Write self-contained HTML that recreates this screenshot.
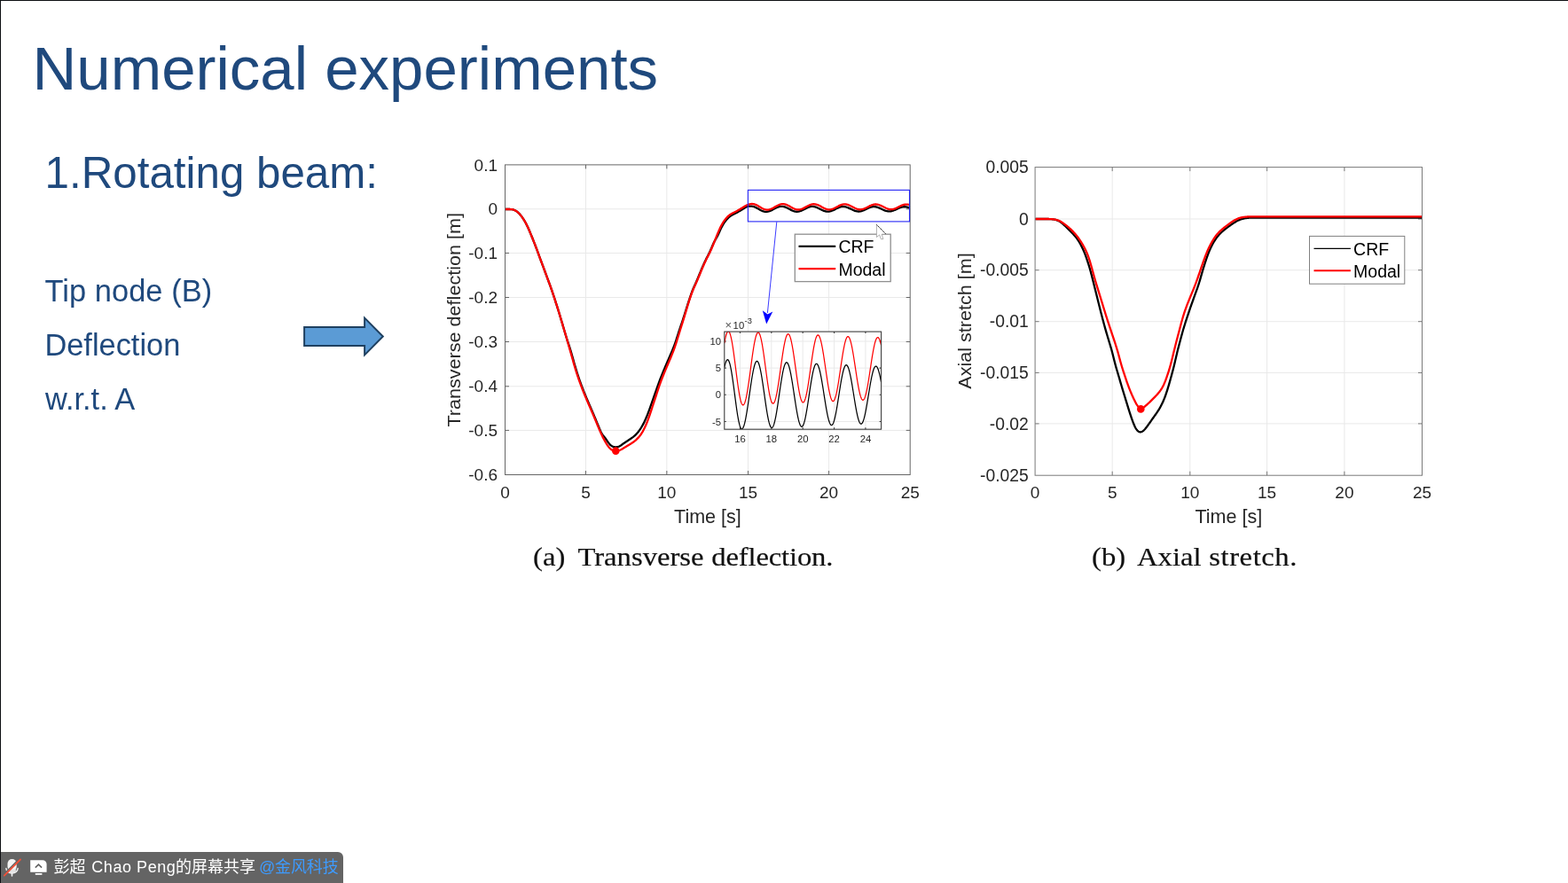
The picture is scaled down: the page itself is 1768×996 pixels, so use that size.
<!DOCTYPE html>
<html lang="en">
<head>
<meta charset="utf-8">
<title>Numerical experiments</title>
<style>
html,body{margin:0;padding:0;background:#fff;}
body{width:1768px;height:996px;position:relative;overflow:hidden;font-family:"Liberation Sans","Noto Sans CJK SC",sans-serif;}
.abs{position:absolute;white-space:nowrap;line-height:1;}
#bt{position:absolute;left:0;top:0;width:1768px;height:1px;background:#0d0f12;}
#bl{position:absolute;left:0;top:0;width:1px;height:996px;background:#0d0f12;}
.blue{color:#1f497d;}
#title{left:36.5px;top:43.2px;font-size:69px;}
#sub{left:50.6px;top:170.3px;font-size:49.3px;}
.li{font-size:34.4px;}
#charts{position:absolute;left:0;top:0;}
#charts text{font-family:"Liberation Sans",sans-serif;}
.cap{font-family:"Liberation Serif",serif;font-size:30.4px;color:#111;transform-origin:0 0;transform:scaleX(1.075);word-spacing:0.5px;-webkit-text-stroke:0.2px #111;}
#bar{position:absolute;left:1px;top:961px;width:386px;height:35px;background:#646464;border-top-right-radius:6px;}
#bar .t{position:absolute;top:0;line-height:35px;font-size:18px;color:#fff;white-space:nowrap;font-family:"Liberation Sans","Noto Sans CJK SC",sans-serif;}
#bar .b{color:#3d9bff;}
</style>
</head>
<body>
<div class="abs blue" id="title">Numerical experiments</div>
<div class="abs blue" id="sub">1.Rotating beam:</div>
<div class="abs blue li" style="left:50.5px;top:310.5px;letter-spacing:0.06px">Tip node (B)</div>
<div class="abs blue li" style="left:50.4px;top:371.85px">Deflection</div>
<div class="abs blue li" style="left:51px;top:433.35px">w.r.t. A</div>
<svg class="abs" style="left:330px;top:345px" width="120" height="70" viewBox="330 345 120 70">
<path d="M343.1,369.1 H411.1 V358.6 L431.8,379.5 L411.1,400.4 V389.9 H343.1 Z" fill="#5b9bd5" stroke="#1f4060" stroke-width="2" stroke-linejoin="miter"/>
</svg>
<svg id="charts" width="1768" height="996" viewBox="0 0 1768 996">
<g>
<line x1="660.5" y1="185.9" x2="660.5" y2="535.5" stroke="#e9e9e9" stroke-width="1"/>
<line x1="751.85" y1="185.9" x2="751.85" y2="535.5" stroke="#e9e9e9" stroke-width="1"/>
<line x1="843.5" y1="185.9" x2="843.5" y2="535.5" stroke="#e9e9e9" stroke-width="1"/>
<line x1="934.6" y1="185.9" x2="934.6" y2="535.5" stroke="#e9e9e9" stroke-width="1"/>
<line x1="569.5" y1="235.8" x2="1026.2" y2="235.8" stroke="#e9e9e9" stroke-width="1"/>
<line x1="569.5" y1="285.45" x2="1026.2" y2="285.45" stroke="#e9e9e9" stroke-width="1"/>
<line x1="569.5" y1="335.5" x2="1026.2" y2="335.5" stroke="#e9e9e9" stroke-width="1"/>
<line x1="569.5" y1="385.5" x2="1026.2" y2="385.5" stroke="#e9e9e9" stroke-width="1"/>
<line x1="569.5" y1="435.8" x2="1026.2" y2="435.8" stroke="#e9e9e9" stroke-width="1"/>
<line x1="569.5" y1="485.4" x2="1026.2" y2="485.4" stroke="#e9e9e9" stroke-width="1"/>
<path d="M660.5,535.5v-4.5M660.5,185.9v4.5M751.85,535.5v-4.5M751.85,185.9v4.5M843.5,535.5v-4.5M843.5,185.9v4.5M934.6,535.5v-4.5M934.6,185.9v4.5M569.5,235.8h4.5M1026.2,235.8h-4.5M569.5,285.45h4.5M1026.2,285.45h-4.5M569.5,335.5h4.5M1026.2,335.5h-4.5M569.5,385.5h4.5M1026.2,385.5h-4.5M569.5,435.8h4.5M1026.2,435.8h-4.5M569.5,485.4h4.5M1026.2,485.4h-4.5" stroke="#666666" stroke-width="1" fill="none"/>
<clipPath id="ca"><rect x="569.5" y="185.9" width="457.20000000000005" height="349.6"/></clipPath>
<g clip-path="url(#ca)" fill="none" stroke-linejoin="round">
<path d="M569.50,236.00 L570.00,236.00 L570.50,236.00 L571.00,236.00 L571.50,236.00 L572.00,236.00 L572.50,236.00 L573.00,236.00 L573.50,236.00 L574.00,236.00 L574.50,236.01 L575.00,236.02 L575.50,236.04 L576.00,236.06 L576.50,236.10 L577.00,236.16 L577.50,236.23 L578.00,236.33 L578.50,236.45 L579.00,236.59 L579.50,236.76 L580.00,236.95 L580.50,237.17 L581.00,237.42 L581.50,237.70 L582.00,238.01 L582.50,238.35 L583.00,238.72 L583.50,239.13 L584.00,239.56 L584.50,240.03 L585.00,240.51 L585.50,241.03 L586.00,241.57 L586.50,242.14 L587.00,242.73 L587.50,243.35 L588.00,243.99 L588.50,244.66 L589.00,245.35 L589.50,246.07 L590.00,246.81 L590.50,247.59 L591.00,248.39 L591.50,249.23 L592.00,250.10 L592.50,251.00 L593.00,251.93 L593.50,252.90 L594.00,253.90 L594.50,254.93 L595.00,255.99 L595.50,257.08 L596.00,258.19 L596.50,259.33 L597.00,260.50 L597.50,261.68 L598.00,262.88 L598.50,264.10 L599.00,265.32 L599.50,266.55 L600.00,267.79 L600.50,269.03 L601.00,270.29 L601.50,271.55 L602.00,272.82 L602.50,274.09 L603.00,275.38 L603.50,276.68 L604.00,277.99 L604.50,279.30 L605.00,280.63 L605.50,281.97 L606.00,283.32 L606.50,284.68 L607.00,286.05 L607.50,287.42 L608.00,288.80 L608.50,290.17 L609.00,291.55 L609.50,292.91 L610.00,294.27 L610.50,295.62 L611.00,296.96 L611.50,298.30 L612.00,299.64 L612.50,300.97 L613.00,302.31 L613.50,303.66 L614.00,305.01 L614.50,306.37 L615.00,307.73 L615.50,309.10 L616.00,310.46 L616.50,311.83 L617.00,313.19 L617.50,314.55 L618.00,315.91 L618.50,317.26 L619.00,318.61 L619.50,319.97 L620.00,321.34 L620.50,322.73 L621.00,324.13 L621.50,325.54 L622.00,326.98 L622.50,328.44 L623.00,329.91 L623.50,331.40 L624.00,332.90 L624.50,334.41 L625.00,335.92 L625.50,337.45 L626.00,338.98 L626.50,340.53 L627.00,342.08 L627.50,343.64 L628.00,345.21 L628.50,346.80 L629.00,348.40 L629.50,350.01 L630.00,351.63 L630.50,353.26 L631.00,354.91 L631.50,356.56 L632.00,358.23 L632.50,359.90 L633.00,361.57 L633.50,363.26 L634.00,364.94 L634.50,366.64 L635.00,368.34 L635.50,370.04 L636.00,371.75 L636.50,373.45 L637.00,375.15 L637.50,376.84 L638.00,378.50 L638.50,380.14 L639.00,381.74 L639.50,383.31 L640.00,384.84 L640.50,386.35 L641.00,387.85 L641.50,389.36 L642.00,390.89 L642.50,392.45 L643.00,394.06 L643.50,395.70 L644.00,397.39 L644.50,399.11 L645.00,400.86 L645.50,402.63 L646.00,404.40 L646.50,406.18 L647.00,407.95 L647.50,409.72 L648.00,411.46 L648.50,413.19 L649.00,414.89 L649.50,416.56 L650.00,418.19 L650.50,419.79 L651.00,421.35 L651.50,422.89 L652.00,424.39 L652.50,425.87 L653.00,427.32 L653.50,428.76 L654.00,430.17 L654.50,431.56 L655.00,432.94 L655.50,434.29 L656.00,435.63 L656.50,436.95 L657.00,438.25 L657.50,439.54 L658.00,440.81 L658.50,442.07 L659.00,443.31 L659.50,444.54 L660.00,445.76 L660.50,446.97 L661.00,448.17 L661.50,449.36 L662.00,450.54 L662.50,451.71 L663.00,452.88 L663.50,454.04 L664.00,455.19 L664.50,456.35 L665.00,457.50 L665.50,458.66 L666.00,459.81 L666.50,460.97 L667.00,462.13 L667.50,463.29 L668.00,464.45 L668.50,465.62 L669.00,466.79 L669.50,467.97 L670.00,469.15 L670.50,470.34 L671.00,471.54 L671.50,472.74 L672.00,473.94 L672.50,475.15 L673.00,476.37 L673.50,477.59 L674.00,478.81 L674.50,480.03 L675.00,481.25 L675.50,482.46 L676.00,483.66 L676.50,484.82 L677.00,485.94 L677.50,487.00 L678.00,487.98 L678.50,488.87 L679.00,489.68 L679.50,490.42 L680.00,491.10 L680.50,491.74 L681.00,492.36 L681.50,492.99 L682.00,493.64 L682.50,494.31 L683.00,495.00 L683.50,495.72 L684.00,496.44 L684.50,497.17 L685.00,497.89 L685.50,498.59 L686.00,499.26 L686.50,499.89 L687.00,500.50 L687.50,501.06 L688.00,501.57 L688.50,502.04 L689.00,502.46 L689.50,502.83 L690.00,503.15 L690.50,503.43 L691.00,503.66 L691.50,503.85 L692.00,504.00 L692.50,504.12 L693.00,504.20 L693.50,504.25 L694.00,504.28 L694.50,504.28 L695.00,504.26 L695.50,504.21 L696.00,504.14 L696.50,504.05 L697.00,503.93 L697.50,503.77 L698.00,503.58 L698.50,503.35 L699.00,503.08 L699.50,502.77 L700.00,502.45 L700.50,502.10 L701.00,501.74 L701.50,501.38 L702.00,501.02 L702.50,500.66 L703.00,500.30 L703.50,499.96 L704.00,499.62 L704.50,499.28 L705.00,498.94 L705.50,498.61 L706.00,498.27 L706.50,497.94 L707.00,497.61 L707.50,497.28 L708.00,496.95 L708.50,496.62 L709.00,496.29 L709.50,495.97 L710.00,495.64 L710.50,495.31 L711.00,494.98 L711.50,494.64 L712.00,494.29 L712.50,493.93 L713.00,493.56 L713.50,493.18 L714.00,492.79 L714.50,492.38 L715.00,491.96 L715.50,491.53 L716.00,491.07 L716.50,490.60 L717.00,490.11 L717.50,489.60 L718.00,489.06 L718.50,488.50 L719.00,487.92 L719.50,487.30 L720.00,486.67 L720.50,486.01 L721.00,485.32 L721.50,484.61 L722.00,483.87 L722.50,483.11 L723.00,482.31 L723.50,481.49 L724.00,480.64 L724.50,479.76 L725.00,478.85 L725.50,477.90 L726.00,476.92 L726.50,475.90 L727.00,474.85 L727.50,473.76 L728.00,472.64 L728.50,471.49 L729.00,470.30 L729.50,469.08 L730.00,467.83 L730.50,466.55 L731.00,465.24 L731.50,463.90 L732.00,462.55 L732.50,461.18 L733.00,459.79 L733.50,458.40 L734.00,456.99 L734.50,455.57 L735.00,454.15 L735.50,452.73 L736.00,451.30 L736.50,449.87 L737.00,448.44 L737.50,447.00 L738.00,445.57 L738.50,444.14 L739.00,442.71 L739.50,441.28 L740.00,439.85 L740.50,438.42 L741.00,436.99 L741.50,435.58 L742.00,434.17 L742.50,432.78 L743.00,431.41 L743.50,430.06 L744.00,428.74 L744.50,427.43 L745.00,426.14 L745.50,424.87 L746.00,423.62 L746.50,422.38 L747.00,421.15 L747.50,419.93 L748.00,418.72 L748.50,417.52 L749.00,416.33 L749.50,415.15 L750.00,413.97 L750.50,412.80 L751.00,411.63 L751.50,410.47 L752.00,409.31 L752.50,408.15 L753.00,407.00 L753.50,405.84 L754.00,404.69 L754.50,403.54 L755.00,402.39 L755.50,401.24 L756.00,400.08 L756.50,398.92 L757.00,397.76 L757.50,396.58 L758.00,395.40 L758.50,394.20 L759.00,392.98 L759.50,391.72 L760.00,390.43 L760.50,389.09 L761.00,387.70 L761.50,386.26 L762.00,384.77 L762.50,383.25 L763.00,381.70 L763.50,380.13 L764.00,378.56 L764.50,377.00 L765.00,375.45 L765.50,373.92 L766.00,372.41 L766.50,370.92 L767.00,369.43 L767.50,367.96 L768.00,366.48 L768.50,365.00 L769.00,363.51 L769.50,362.01 L770.00,360.49 L770.50,358.96 L771.00,357.41 L771.50,355.85 L772.00,354.28 L772.50,352.70 L773.00,351.12 L773.50,349.53 L774.00,347.95 L774.50,346.36 L775.00,344.78 L775.50,343.20 L776.00,341.64 L776.50,340.08 L777.00,338.54 L777.50,337.02 L778.00,335.52 L778.50,334.05 L779.00,332.60 L779.50,331.20 L780.00,329.83 L780.50,328.51 L781.00,327.23 L781.50,326.00 L782.00,324.82 L782.50,323.67 L783.00,322.56 L783.50,321.46 L784.00,320.36 L784.50,319.25 L785.00,318.12 L785.50,316.98 L786.00,315.81 L786.50,314.62 L787.00,313.42 L787.50,312.21 L788.00,310.99 L788.50,309.77 L789.00,308.56 L789.50,307.35 L790.00,306.14 L790.50,304.94 L791.00,303.75 L791.50,302.57 L792.00,301.40 L792.50,300.25 L793.00,299.11 L793.50,297.99 L794.00,296.89 L794.50,295.80 L795.00,294.72 L795.50,293.67 L796.00,292.64 L796.50,291.63 L797.00,290.64 L797.50,289.66 L798.00,288.68 L798.50,287.71 L799.00,286.73 L799.50,285.73 L800.00,284.71 L800.50,283.66 L801.00,282.57 L801.50,281.45 L802.00,280.30 L802.50,279.13 L803.00,277.94 L803.50,276.75 L804.00,275.59 L804.50,274.47 L805.00,273.41 L805.50,272.41 L806.00,271.46 L806.50,270.57 L807.00,269.71 L807.50,268.85 L808.00,267.99 L808.50,267.09 L809.00,266.16 L809.50,265.17 L810.00,264.13 L810.50,263.05 L811.00,261.94 L811.50,260.83 L812.00,259.72 L812.50,258.64 L813.00,257.59 L813.50,256.58 L814.00,255.62 L814.50,254.69 L815.00,253.81 L815.50,252.97 L816.00,252.17 L816.50,251.41 L817.00,250.68 L817.50,249.99 L818.00,249.32 L818.50,248.68 L819.00,248.07 L819.50,247.49 L820.00,246.93 L820.50,246.39 L821.00,245.89 L821.50,245.41 L822.00,244.96 L822.50,244.54 L823.00,244.15 L823.50,243.78 L824.00,243.43 L824.50,243.11 L825.00,242.80 L825.50,242.51 L826.00,242.23 L826.50,241.96 L827.00,241.70 L827.50,241.44 L828.00,241.19 L828.50,240.95 L829.00,240.70 L829.50,240.45 L830.00,240.20 L830.50,239.94 L831.00,239.68 L831.50,239.42 L832.00,239.15 L832.50,238.87 L833.00,238.59 L833.50,238.30 L834.00,238.01 L834.50,237.71 L835.00,237.41 L835.50,237.11 L836.00,236.80 L836.50,236.49 L837.00,236.18 L837.50,235.87 L838.00,235.55 L838.50,235.23 L839.00,234.92 L839.50,234.60 L840.00,234.29 L840.50,233.98 L841.00,233.70 L841.50,233.44 L842.00,233.21 L842.50,233.02 L843.00,232.88 L843.50,232.78 L844.00,232.71 L844.50,232.67 L845.00,232.64 L845.50,232.63 L846.00,232.62 L846.50,232.62 L847.00,232.63 L847.50,232.66 L848.00,232.70 L848.50,232.77 L849.00,232.86 L849.50,232.98 L850.00,233.12 L850.50,233.28 L851.00,233.47 L851.50,233.68 L852.00,233.91 L852.50,234.15 L853.00,234.41 L853.50,234.68 L854.00,234.96 L854.50,235.24 L855.00,235.54 L855.50,235.83 L856.00,236.12 L856.50,236.41 L857.00,236.70 L857.50,236.97 L858.00,237.24 L858.50,237.49 L859.00,237.72 L859.50,237.94 L860.00,238.14 L860.50,238.32 L861.00,238.47 L861.50,238.60 L862.00,238.70 L862.50,238.78 L863.00,238.83 L863.50,238.86 L864.00,238.86 L864.50,238.83 L865.00,238.78 L865.50,238.71 L866.00,238.61 L866.50,238.49 L867.00,238.35 L867.50,238.18 L868.00,238.00 L868.50,237.81 L869.00,237.59 L869.50,237.36 L870.00,237.13 L870.50,236.88 L871.00,236.62 L871.50,236.35 L872.00,236.08 L872.50,235.81 L873.00,235.54 L873.50,235.28 L874.00,235.01 L874.50,234.76 L875.00,234.51 L875.50,234.27 L876.00,234.04 L876.50,233.83 L877.00,233.64 L877.50,233.46 L878.00,233.30 L878.50,233.16 L879.00,233.04 L879.50,232.94 L880.00,232.87 L880.50,232.82 L881.00,232.79 L881.50,232.79 L882.00,232.81 L882.50,232.86 L883.00,232.93 L883.50,233.03 L884.00,233.14 L884.50,233.28 L885.00,233.44 L885.50,233.62 L886.00,233.82 L886.50,234.03 L887.00,234.26 L887.50,234.50 L888.00,234.75 L888.50,235.00 L889.00,235.27 L889.50,235.54 L890.00,235.81 L890.50,236.08 L891.00,236.35 L891.50,236.61 L892.00,236.87 L892.50,237.12 L893.00,237.35 L893.50,237.58 L894.00,237.79 L894.50,237.98 L895.00,238.15 L895.50,238.30 L896.00,238.44 L896.50,238.55 L897.00,238.63 L897.50,238.70 L898.00,238.74 L898.50,238.75 L899.00,238.74 L899.50,238.71 L900.00,238.65 L900.50,238.57 L901.00,238.47 L901.50,238.34 L902.00,238.20 L902.50,238.03 L903.00,237.85 L903.50,237.64 L904.00,237.43 L904.50,237.20 L905.00,236.96 L905.50,236.71 L906.00,236.45 L906.50,236.19 L907.00,235.92 L907.50,235.66 L908.00,235.39 L908.50,235.13 L909.00,234.87 L909.50,234.63 L910.00,234.39 L910.50,234.16 L911.00,233.95 L911.50,233.76 L912.00,233.58 L912.50,233.42 L913.00,233.28 L913.50,233.16 L914.00,233.06 L914.50,232.98 L915.00,232.93 L915.50,232.91 L916.00,232.90 L916.50,232.92 L917.00,232.96 L917.50,233.03 L918.00,233.11 L918.50,233.22 L919.00,233.35 L919.50,233.50 L920.00,233.66 L920.50,233.85 L921.00,234.04 L921.50,234.26 L922.00,234.48 L922.50,234.71 L923.00,234.95 L923.50,235.20 L924.00,235.46 L924.50,235.71 L925.00,235.97 L925.50,236.22 L926.00,236.48 L926.50,236.72 L927.00,236.96 L927.50,237.19 L928.00,237.41 L928.50,237.61 L929.00,237.80 L929.50,237.98 L930.00,238.13 L930.50,238.27 L931.00,238.39 L931.50,238.49 L932.00,238.57 L932.50,238.62 L933.00,238.65 L933.50,238.66 L934.00,238.65 L934.50,238.61 L935.00,238.55 L935.50,238.46 L936.00,238.36 L936.50,238.23 L937.00,238.09 L937.50,237.92 L938.00,237.74 L938.50,237.54 L939.00,237.33 L939.50,237.10 L940.00,236.87 L940.50,236.62 L941.00,236.37 L941.50,236.12 L942.00,235.86 L942.50,235.60 L943.00,235.34 L943.50,235.09 L944.00,234.85 L944.50,234.61 L945.00,234.38 L945.50,234.17 L946.00,233.97 L946.50,233.78 L947.00,233.62 L947.50,233.47 L948.00,233.34 L948.50,233.23 L949.00,233.14 L949.50,233.08 L950.00,233.04 L950.50,233.02 L951.00,233.03 L951.50,233.05 L952.00,233.10 L952.50,233.17 L953.00,233.27 L953.50,233.38 L954.00,233.51 L954.50,233.66 L955.00,233.82 L955.50,234.01 L956.00,234.20 L956.50,234.41 L957.00,234.63 L957.50,234.86 L958.00,235.10 L958.50,235.34 L959.00,235.58 L959.50,235.83 L960.00,236.07 L960.50,236.32 L961.00,236.56 L961.50,236.79 L962.00,237.01 L962.50,237.23 L963.00,237.43 L963.50,237.62 L964.00,237.80 L964.50,237.96 L965.00,238.10 L965.50,238.22 L966.00,238.32 L966.50,238.40 L967.00,238.47 L967.50,238.51 L968.00,238.52 L968.50,238.52 L969.00,238.49 L969.50,238.44 L970.00,238.37 L970.50,238.28 L971.00,238.17 L971.50,238.03 L972.00,237.88 L972.50,237.72 L973.00,237.53 L973.50,237.33 L974.00,237.12 L974.50,236.90 L975.00,236.67 L975.50,236.43 L976.00,236.19 L976.50,235.95 L977.00,235.70 L977.50,235.45 L978.00,235.21 L978.50,234.97 L979.00,234.74 L979.50,234.52 L980.00,234.31 L980.50,234.11 L981.00,233.93 L981.50,233.76 L982.00,233.61 L982.50,233.48 L983.00,233.37 L983.50,233.28 L984.00,233.21 L984.50,233.16 L985.00,233.14 L985.50,233.13 L986.00,233.15 L986.50,233.19 L987.00,233.26 L987.50,233.34 L988.00,233.44 L988.50,233.57 L989.00,233.71 L989.50,233.86 L990.00,234.04 L990.50,234.23 L991.00,234.43 L991.50,234.64 L992.00,234.86 L992.50,235.09 L993.00,235.33 L993.50,235.56 L994.00,235.80 L994.50,236.04 L995.00,236.28 L995.50,236.52 L996.00,236.74 L996.50,236.96 L997.00,237.17 L997.50,237.37 L998.00,237.55 L998.50,237.72 L999.00,237.88 L999.50,238.01 L1000.00,238.13 L1000.50,238.23 L1001.00,238.31 L1001.50,238.36 L1002.00,238.40 L1002.50,238.41 L1003.00,238.40 L1003.50,238.37 L1004.00,238.32 L1004.50,238.25 L1005.00,238.16 L1005.50,238.05 L1006.00,237.92 L1006.50,237.77 L1007.00,237.61 L1007.50,237.43 L1008.00,237.24 L1008.50,237.04 L1009.00,236.83 L1009.50,236.61 L1010.00,236.38 L1010.50,236.15 L1011.00,235.91 L1011.50,235.68 L1012.00,235.44 L1012.50,235.21 L1013.00,234.98 L1013.50,234.77 L1014.00,234.56 L1014.50,234.36 L1015.00,234.17 L1015.50,234.00 L1016.00,233.84 L1016.50,233.69 L1017.00,233.57 L1017.50,233.46 L1018.00,233.38 L1018.50,233.31 L1019.00,233.27 L1019.50,233.24 L1020.00,233.24 L1020.50,233.26 L1021.00,233.30 L1021.50,233.36 L1022.00,233.43 L1022.50,233.53 L1023.00,233.64 L1023.50,233.77 L1024.00,233.90 L1024.50,234.04 L1025.00,234.17 L1025.50,234.28 L1026.00,234.39" stroke="#000" stroke-width="2.3"/>
<path d="M569.50,236.00 L570.00,236.00 L570.50,236.00 L571.00,236.00 L571.50,236.00 L572.00,236.00 L572.50,236.00 L573.00,236.00 L573.50,236.00 L574.00,236.00 L574.50,236.01 L575.00,236.02 L575.50,236.04 L576.00,236.06 L576.50,236.10 L577.00,236.16 L577.50,236.23 L578.00,236.33 L578.50,236.45 L579.00,236.59 L579.50,236.76 L580.00,236.95 L580.50,237.17 L581.00,237.42 L581.50,237.70 L582.00,238.01 L582.50,238.35 L583.00,238.72 L583.50,239.13 L584.00,239.56 L584.50,240.03 L585.00,240.51 L585.50,241.03 L586.00,241.57 L586.50,242.14 L587.00,242.73 L587.50,243.35 L588.00,243.99 L588.50,244.66 L589.00,245.35 L589.50,246.07 L590.00,246.81 L590.50,247.59 L591.00,248.39 L591.50,249.23 L592.00,250.10 L592.50,251.00 L593.00,251.93 L593.50,252.90 L594.00,253.90 L594.50,254.93 L595.00,255.99 L595.50,257.08 L596.00,258.19 L596.50,259.33 L597.00,260.50 L597.50,261.68 L598.00,262.88 L598.50,264.10 L599.00,265.32 L599.50,266.55 L600.00,267.79 L600.50,269.03 L601.00,270.29 L601.50,271.55 L602.00,272.82 L602.50,274.09 L603.00,275.38 L603.50,276.68 L604.00,277.99 L604.50,279.30 L605.00,280.63 L605.50,281.97 L606.00,283.32 L606.50,284.68 L607.00,286.05 L607.50,287.42 L608.00,288.80 L608.50,290.17 L609.00,291.55 L609.50,292.91 L610.00,294.27 L610.50,295.62 L611.00,296.96 L611.50,298.30 L612.00,299.64 L612.50,300.97 L613.00,302.31 L613.50,303.66 L614.00,305.01 L614.50,306.37 L615.00,307.73 L615.50,309.10 L616.00,310.46 L616.50,311.83 L617.00,313.19 L617.50,314.55 L618.00,315.91 L618.50,317.26 L619.00,318.61 L619.50,319.97 L620.00,321.34 L620.50,322.73 L621.00,324.13 L621.50,325.54 L622.00,326.98 L622.50,328.44 L623.00,329.91 L623.50,331.40 L624.00,332.90 L624.50,334.41 L625.00,335.92 L625.50,337.45 L626.00,338.98 L626.50,340.53 L627.00,342.08 L627.50,343.64 L628.00,345.21 L628.50,346.80 L629.00,348.40 L629.50,350.01 L630.00,351.63 L630.50,353.26 L631.00,354.91 L631.50,356.56 L632.00,358.23 L632.50,359.90 L633.00,361.57 L633.50,363.25 L634.00,364.94 L634.50,366.63 L635.00,368.32 L635.50,370.02 L636.00,371.72 L636.50,373.42 L637.00,375.12 L637.50,376.83 L638.00,378.54 L638.50,380.26 L639.00,381.98 L639.50,383.72 L640.00,385.46 L640.50,387.21 L641.00,388.96 L641.50,390.72 L642.00,392.48 L642.50,394.24 L643.00,396.00 L643.50,397.75 L644.00,399.51 L644.50,401.27 L645.00,403.03 L645.50,404.80 L646.00,406.56 L646.50,408.32 L647.00,410.08 L647.50,411.82 L648.00,413.53 L648.50,415.23 L649.00,416.88 L649.50,418.51 L650.00,420.10 L650.50,421.66 L651.00,423.19 L651.50,424.69 L652.00,426.16 L652.50,427.61 L653.00,429.04 L653.50,430.45 L654.00,431.84 L654.50,433.21 L655.00,434.56 L655.50,435.90 L656.00,437.21 L656.50,438.51 L657.00,439.80 L657.50,441.07 L658.00,442.32 L658.50,443.56 L659.00,444.79 L659.50,446.00 L660.00,447.21 L660.50,448.40 L661.00,449.59 L661.50,450.77 L662.00,451.94 L662.50,453.11 L663.00,454.27 L663.50,455.43 L664.00,456.58 L664.50,457.73 L665.00,458.89 L665.50,460.04 L666.00,461.20 L666.50,462.36 L667.00,463.52 L667.50,464.69 L668.00,465.85 L668.50,467.03 L669.00,468.21 L669.50,469.39 L670.00,470.58 L670.50,471.78 L671.00,472.98 L671.50,474.18 L672.00,475.39 L672.50,476.60 L673.00,477.81 L673.50,479.01 L674.00,480.21 L674.50,481.41 L675.00,482.60 L675.50,483.78 L676.00,484.95 L676.50,486.10 L677.00,487.24 L677.50,488.36 L678.00,489.46 L678.50,490.54 L679.00,491.59 L679.50,492.63 L680.00,493.63 L680.50,494.62 L681.00,495.58 L681.50,496.51 L682.00,497.42 L682.50,498.31 L683.00,499.17 L683.50,500.00 L684.00,500.80 L684.50,501.57 L685.00,502.31 L685.50,503.01 L686.00,503.68 L686.50,504.31 L687.00,504.90 L687.50,505.45 L688.00,505.96 L688.50,506.42 L689.00,506.84 L689.50,507.22 L690.00,507.55 L690.50,507.84 L691.00,508.09 L691.50,508.30 L692.00,508.48 L692.50,508.62 L693.00,508.72 L693.50,508.79 L694.00,508.83 L694.50,508.83 L695.00,508.81 L695.50,508.75 L696.00,508.67 L696.50,508.57 L697.00,508.44 L697.50,508.30 L698.00,508.14 L698.50,507.96 L699.00,507.76 L699.50,507.54 L700.00,507.30 L700.50,507.04 L701.00,506.76 L701.50,506.47 L702.00,506.17 L702.50,505.86 L703.00,505.55 L703.50,505.23 L704.00,504.92 L704.50,504.61 L705.00,504.31 L705.50,504.01 L706.00,503.71 L706.50,503.41 L707.00,503.11 L707.50,502.82 L708.00,502.52 L708.50,502.22 L709.00,501.92 L709.50,501.61 L710.00,501.31 L710.50,501.00 L711.00,500.69 L711.50,500.37 L712.00,500.06 L712.50,499.73 L713.00,499.40 L713.50,499.06 L714.00,498.71 L714.50,498.35 L715.00,497.98 L715.50,497.59 L716.00,497.19 L716.50,496.77 L717.00,496.34 L717.50,495.89 L718.00,495.42 L718.50,494.93 L719.00,494.43 L719.50,493.91 L720.00,493.37 L720.50,492.80 L721.00,492.21 L721.50,491.59 L722.00,490.93 L722.50,490.24 L723.00,489.51 L723.50,488.74 L724.00,487.93 L724.50,487.08 L725.00,486.18 L725.50,485.25 L726.00,484.28 L726.50,483.28 L727.00,482.24 L727.50,481.18 L728.00,480.08 L728.50,478.94 L729.00,477.76 L729.50,476.54 L730.00,475.27 L730.50,473.95 L731.00,472.59 L731.50,471.19 L732.00,469.75 L732.50,468.28 L733.00,466.80 L733.50,465.30 L734.00,463.80 L734.50,462.29 L735.00,460.77 L735.50,459.26 L736.00,457.74 L736.50,456.22 L737.00,454.69 L737.50,453.17 L738.00,451.64 L738.50,450.11 L739.00,448.58 L739.50,447.05 L740.00,445.52 L740.50,443.99 L741.00,442.46 L741.50,440.94 L742.00,439.42 L742.50,437.92 L743.00,436.43 L743.50,434.97 L744.00,433.53 L744.50,432.12 L745.00,430.74 L745.50,429.39 L746.00,428.07 L746.50,426.76 L747.00,425.48 L747.50,424.22 L748.00,422.97 L748.50,421.74 L749.00,420.52 L749.50,419.31 L750.00,418.11 L750.50,416.92 L751.00,415.74 L751.50,414.57 L752.00,413.40 L752.50,412.23 L753.00,411.06 L753.50,409.90 L754.00,408.73 L754.50,407.56 L755.00,406.39 L755.50,405.21 L756.00,404.02 L756.50,402.83 L757.00,401.62 L757.50,400.39 L758.00,399.14 L758.50,397.87 L759.00,396.58 L759.50,395.26 L760.00,393.90 L760.50,392.52 L761.00,391.10 L761.50,389.64 L762.00,388.14 L762.50,386.60 L763.00,385.02 L763.50,383.41 L764.00,381.78 L764.50,380.14 L765.00,378.49 L765.50,376.85 L766.00,375.22 L766.50,373.60 L767.00,371.99 L767.50,370.40 L768.00,368.81 L768.50,367.22 L769.00,365.64 L769.50,364.04 L770.00,362.44 L770.50,360.82 L771.00,359.19 L771.50,357.55 L772.00,355.90 L772.50,354.23 L773.00,352.56 L773.50,350.89 L774.00,349.23 L774.50,347.57 L775.00,345.91 L775.50,344.27 L776.00,342.65 L776.50,341.04 L777.00,339.46 L777.50,337.90 L778.00,336.38 L778.50,334.88 L779.00,333.43 L779.50,332.02 L780.00,330.65 L780.50,329.32 L781.00,328.04 L781.50,326.80 L782.00,325.61 L782.50,324.46 L783.00,323.34 L783.50,322.24 L784.00,321.15 L784.50,320.05 L785.00,318.95 L785.50,317.82 L786.00,316.68 L786.50,315.51 L787.00,314.32 L787.50,313.12 L788.00,311.91 L788.50,310.69 L789.00,309.47 L789.50,308.26 L790.00,307.05 L790.50,305.84 L791.00,304.64 L791.50,303.45 L792.00,302.27 L792.50,301.10 L793.00,299.95 L793.50,298.81 L794.00,297.69 L794.50,296.59 L795.00,295.50 L795.50,294.42 L796.00,293.37 L796.50,292.34 L797.00,291.33 L797.50,290.34 L798.00,289.36 L798.50,288.38 L799.00,287.41 L799.50,286.43 L800.00,285.44 L800.50,284.42 L801.00,283.37 L801.50,282.30 L802.00,281.18 L802.50,280.04 L803.00,278.87 L803.50,277.66 L804.00,276.44 L804.50,275.19 L805.00,273.94 L805.50,272.68 L806.00,271.42 L806.50,270.17 L807.00,268.91 L807.50,267.67 L808.00,266.43 L808.50,265.20 L809.00,263.98 L809.50,262.78 L810.00,261.59 L810.50,260.42 L811.00,259.28 L811.50,258.17 L812.00,257.10 L812.50,256.06 L813.00,255.06 L813.50,254.10 L814.00,253.19 L814.50,252.31 L815.00,251.47 L815.50,250.67 L816.00,249.91 L816.50,249.18 L817.00,248.49 L817.50,247.82 L818.00,247.18 L818.50,246.57 L819.00,245.99 L819.50,245.43 L820.00,244.89 L820.50,244.39 L821.00,243.91 L821.50,243.46 L822.00,243.04 L822.50,242.65 L823.00,242.28 L823.50,241.93 L824.00,241.61 L824.50,241.30 L825.00,241.01 L825.50,240.73 L826.00,240.46 L826.50,240.20 L827.00,239.94 L827.50,239.69 L828.00,239.45 L828.50,239.20 L829.00,238.95 L829.50,238.70 L830.00,238.44 L830.50,238.18 L831.00,237.92 L831.50,237.65 L832.00,237.37 L832.50,237.09 L833.00,236.80 L833.50,236.51 L834.00,236.21 L834.50,235.91 L835.00,235.61 L835.50,235.30 L836.00,234.99 L836.50,234.68 L837.00,234.37 L837.50,234.06 L838.00,233.75 L838.50,233.44 L839.00,233.14 L839.50,232.84 L840.00,232.54 L840.50,232.26 L841.00,231.98 L841.50,231.72 L842.00,231.48 L842.50,231.25 L843.00,231.04 L843.50,230.86 L844.00,230.69 L844.50,230.54 L845.00,230.40 L845.50,230.28 L846.00,230.18 L846.50,230.10 L847.00,230.05 L847.50,230.01 L848.00,230.00 L848.50,230.02 L849.00,230.07 L849.50,230.14 L850.00,230.24 L850.50,230.36 L851.00,230.51 L851.50,230.68 L852.00,230.88 L852.50,231.09 L853.00,231.33 L853.50,231.58 L854.00,231.84 L854.50,232.12 L855.00,232.40 L855.50,232.70 L856.00,233.00 L856.50,233.30 L857.00,233.60 L857.50,233.90 L858.00,234.20 L858.50,234.49 L859.00,234.76 L859.50,235.03 L860.00,235.28 L860.50,235.51 L861.00,235.73 L861.50,235.93 L862.00,236.10 L862.50,236.25 L863.00,236.38 L863.50,236.48 L864.00,236.55 L864.50,236.60 L865.00,236.62 L865.50,236.61 L866.00,236.58 L866.50,236.52 L867.00,236.44 L867.50,236.33 L868.00,236.20 L868.50,236.04 L869.00,235.87 L869.50,235.67 L870.00,235.46 L870.50,235.23 L871.00,234.99 L871.50,234.73 L872.00,234.46 L872.50,234.18 L873.00,233.90 L873.50,233.61 L874.00,233.32 L874.50,233.03 L875.00,232.75 L875.50,232.46 L876.00,232.19 L876.50,231.93 L877.00,231.67 L877.50,231.43 L878.00,231.21 L878.50,231.00 L879.00,230.81 L879.50,230.64 L880.00,230.49 L880.50,230.37 L881.00,230.27 L881.50,230.19 L882.00,230.14 L882.50,230.12 L883.00,230.12 L883.50,230.14 L884.00,230.20 L884.50,230.27 L885.00,230.38 L885.50,230.51 L886.00,230.66 L886.50,230.83 L887.00,231.02 L887.50,231.23 L888.00,231.46 L888.50,231.71 L889.00,231.96 L889.50,232.23 L890.00,232.51 L890.50,232.79 L891.00,233.08 L891.50,233.37 L892.00,233.66 L892.50,233.95 L893.00,234.23 L893.50,234.50 L894.00,234.76 L894.50,235.01 L895.00,235.25 L895.50,235.47 L896.00,235.67 L896.50,235.86 L897.00,236.02 L897.50,236.16 L898.00,236.27 L898.50,236.37 L899.00,236.43 L899.50,236.47 L900.00,236.49 L900.50,236.48 L901.00,236.44 L901.50,236.38 L902.00,236.29 L902.50,236.19 L903.00,236.06 L903.50,235.90 L904.00,235.73 L904.50,235.54 L905.00,235.33 L905.50,235.11 L906.00,234.87 L906.50,234.63 L907.00,234.37 L907.50,234.10 L908.00,233.83 L908.50,233.55 L909.00,233.27 L909.50,233.00 L910.00,232.72 L910.50,232.45 L911.00,232.19 L911.50,231.94 L912.00,231.70 L912.50,231.47 L913.00,231.26 L913.50,231.06 L914.00,230.88 L914.50,230.73 L915.00,230.59 L915.50,230.47 L916.00,230.38 L916.50,230.31 L917.00,230.27 L917.50,230.25 L918.00,230.25 L918.50,230.28 L919.00,230.34 L919.50,230.42 L920.00,230.52 L920.50,230.65 L921.00,230.79 L921.50,230.96 L922.00,231.15 L922.50,231.35 L923.00,231.58 L923.50,231.81 L924.00,232.06 L924.50,232.32 L925.00,232.58 L925.50,232.86 L926.00,233.13 L926.50,233.41 L927.00,233.69 L927.50,233.96 L928.00,234.23 L928.50,234.49 L929.00,234.74 L929.50,234.98 L930.00,235.21 L930.50,235.42 L931.00,235.62 L931.50,235.79 L932.00,235.94 L932.50,236.08 L933.00,236.19 L933.50,236.28 L934.00,236.34 L934.50,236.38 L935.00,236.39 L935.50,236.38 L936.00,236.34 L936.50,236.28 L937.00,236.20 L937.50,236.09 L938.00,235.96 L938.50,235.81 L939.00,235.64 L939.50,235.45 L940.00,235.24 L940.50,235.02 L941.00,234.78 L941.50,234.53 L942.00,234.28 L942.50,234.01 L943.00,233.74 L943.50,233.47 L944.00,233.20 L944.50,232.92 L945.00,232.66 L945.50,232.39 L946.00,232.14 L946.50,231.89 L947.00,231.66 L947.50,231.44 L948.00,231.24 L948.50,231.06 L949.00,230.89 L949.50,230.74 L950.00,230.62 L950.50,230.52 L951.00,230.44 L951.50,230.38 L952.00,230.35 L952.50,230.34 L953.00,230.36 L953.50,230.40 L954.00,230.47 L954.50,230.56 L955.00,230.67 L955.50,230.80 L956.00,230.95 L956.50,231.12 L957.00,231.31 L957.50,231.51 L958.00,231.73 L958.50,231.96 L959.00,232.20 L959.50,232.45 L960.00,232.71 L960.50,232.97 L961.00,233.24 L961.50,233.50 L962.00,233.77 L962.50,234.03 L963.00,234.28 L963.50,234.53 L964.00,234.77 L964.50,234.99 L965.00,235.20 L965.50,235.40 L966.00,235.58 L966.50,235.74 L967.00,235.88 L967.50,236.01 L968.00,236.11 L968.50,236.19 L969.00,236.24 L969.50,236.27 L970.00,236.28 L970.50,236.26 L971.00,236.22 L971.50,236.16 L972.00,236.08 L972.50,235.97 L973.00,235.84 L973.50,235.69 L974.00,235.52 L974.50,235.34 L975.00,235.14 L975.50,234.92 L976.00,234.69 L976.50,234.45 L977.00,234.21 L977.50,233.95 L978.00,233.69 L978.50,233.43 L979.00,233.17 L979.50,232.91 L980.00,232.65 L980.50,232.40 L981.00,232.16 L981.50,231.93 L982.00,231.70 L982.50,231.50 L983.00,231.31 L983.50,231.13 L984.00,230.98 L984.50,230.84 L985.00,230.72 L985.50,230.63 L986.00,230.56 L986.50,230.51 L987.00,230.48 L987.50,230.48 L988.00,230.50 L988.50,230.55 L989.00,230.62 L989.50,230.70 L990.00,230.82 L990.50,230.95 L991.00,231.10 L991.50,231.26 L992.00,231.45 L992.50,231.65 L993.00,231.86 L993.50,232.09 L994.00,232.33 L994.50,232.57 L995.00,232.82 L995.50,233.07 L996.00,233.33 L996.50,233.58 L997.00,233.84 L997.50,234.09 L998.00,234.33 L998.50,234.57 L999.00,234.79 L999.50,235.01 L1000.00,235.21 L1000.50,235.39 L1001.00,235.56 L1001.50,235.71 L1002.00,235.84 L1002.50,235.95 L1003.00,236.04 L1003.50,236.11 L1004.00,236.15 L1004.50,236.17 L1005.00,236.17 L1005.50,236.15 L1006.00,236.10 L1006.50,236.03 L1007.00,235.94 L1007.50,235.82 L1008.00,235.69 L1008.50,235.54 L1009.00,235.37 L1009.50,235.18 L1010.00,234.98 L1010.50,234.76 L1011.00,234.53 L1011.50,234.30 L1012.00,234.05 L1012.50,233.80 L1013.00,233.55 L1013.50,233.29 L1014.00,233.04 L1014.50,232.78 L1015.00,232.54 L1015.50,232.30 L1016.00,232.07 L1016.50,231.84 L1017.00,231.64 L1017.50,231.44 L1018.00,231.27 L1018.50,231.10 L1019.00,230.96 L1019.50,230.84 L1020.00,230.74 L1020.50,230.66 L1021.00,230.61 L1021.50,230.57 L1022.00,230.56 L1022.50,230.57 L1023.00,230.60 L1023.50,230.65 L1024.00,230.71 L1024.50,230.78 L1025.00,230.86 L1025.50,230.94 L1026.00,231.00" stroke="#f00" stroke-width="2.3"/>
</g>
<circle cx="694.3" cy="508.6" r="4.3" fill="#f00"/>
<rect x="569.5" y="185.9" width="456.7" height="349.6" fill="none" stroke="#666666" stroke-width="1"/>
<rect x="843.4" y="214.4" width="182.1" height="35.5" fill="none" stroke="#2525f5" stroke-width="1.1"/>
<line x1="875.8" y1="250.2" x2="865.4" y2="353" stroke="#3a3aff" stroke-width="1"/>
<path d="M864.2,365.4 L859.8,350.2 L865.5,354.4 L871.3,351.5 Z" fill="#0000ff"/>
<text x="561" y="192.5" font-size="19" text-anchor="end" fill="#262626" >0.1</text>
<text x="561" y="242.4" font-size="19" text-anchor="end" fill="#262626" >0</text>
<text x="561" y="292.05" font-size="19" text-anchor="end" fill="#262626" >-0.1</text>
<text x="561" y="342.1" font-size="19" text-anchor="end" fill="#262626" >-0.2</text>
<text x="561" y="392.1" font-size="19" text-anchor="end" fill="#262626" >-0.3</text>
<text x="561" y="442.4" font-size="19" text-anchor="end" fill="#262626" >-0.4</text>
<text x="561" y="492" font-size="19" text-anchor="end" fill="#262626" >-0.5</text>
<text x="561" y="542.1" font-size="19" text-anchor="end" fill="#262626" >-0.6</text>
<text x="569.5" y="562.3" font-size="19" text-anchor="middle" fill="#262626" >0</text>
<text x="660.5" y="562.3" font-size="19" text-anchor="middle" fill="#262626" >5</text>
<text x="751.85" y="562.3" font-size="19" text-anchor="middle" fill="#262626" >10</text>
<text x="843.5" y="562.3" font-size="19" text-anchor="middle" fill="#262626" >15</text>
<text x="934.6" y="562.3" font-size="19" text-anchor="middle" fill="#262626" >20</text>
<text x="1026.2" y="562.3" font-size="19" text-anchor="middle" fill="#262626" >25</text>
<text x="797.9" y="589.7" font-size="21.5" text-anchor="middle" fill="#262626" >Time [s]</text>
<text transform="translate(519.2,360.8) rotate(-90) scale(1,0.97)" font-size="21.6" text-anchor="middle" fill="#262626">Transverse deflection [m]</text>
<rect x="896.3" y="264.2" width="107.9" height="53.4" fill="#fff" stroke="#8f8f8f" stroke-width="1.3"/>
<line x1="900.5" y1="277.9" x2="942.2" y2="277.9" stroke="#000" stroke-width="2.2"/>
<line x1="900.5" y1="303.2" x2="942.2" y2="303.2" stroke="#f00" stroke-width="2.2"/>
<text x="945.4" y="284.9" font-size="19.5" text-anchor="start" fill="#000" >CRF</text>
<text x="945.4" y="310.6" font-size="19.5" text-anchor="start" fill="#000" >Modal</text>
<rect x="816.8" y="374.1" width="176.8" height="110.1" fill="#fff"/>
<line x1="834.48" y1="374.1" x2="834.48" y2="484.2" stroke="#e9e9e9" stroke-width="1"/>
<line x1="869.84" y1="374.1" x2="869.84" y2="484.2" stroke="#e9e9e9" stroke-width="1"/>
<line x1="905.2" y1="374.1" x2="905.2" y2="484.2" stroke="#e9e9e9" stroke-width="1"/>
<line x1="940.56" y1="374.1" x2="940.56" y2="484.2" stroke="#e9e9e9" stroke-width="1"/>
<line x1="975.92" y1="374.1" x2="975.92" y2="484.2" stroke="#e9e9e9" stroke-width="1"/>
<line x1="816.8" y1="385" x2="993.6" y2="385" stroke="#e9e9e9" stroke-width="1"/>
<line x1="816.8" y1="415.15" x2="993.6" y2="415.15" stroke="#e9e9e9" stroke-width="1"/>
<line x1="816.8" y1="445.3" x2="993.6" y2="445.3" stroke="#e9e9e9" stroke-width="1"/>
<line x1="816.8" y1="475.45" x2="993.6" y2="475.45" stroke="#e9e9e9" stroke-width="1"/>
<path d="M834.48,484.2v-2M834.48,374.1v2M869.84,484.2v-2M869.84,374.1v2M905.2,484.2v-2M905.2,374.1v2M940.56,484.2v-2M940.56,374.1v2M975.92,484.2v-2M975.92,374.1v2M816.8,385h2M993.6,385h-2M816.8,415.15h2M993.6,415.15h-2M816.8,445.3h2M993.6,445.3h-2M816.8,475.45h2M993.6,475.45h-2" stroke="#3c3c3c" stroke-width="1.1" fill="none"/>
<clipPath id="ci"><rect x="816.8" y="374.1" width="177.4" height="110.1"/></clipPath>
<g clip-path="url(#ci)" fill="none" stroke-linejoin="round">
<path d="M816.80,414.37 L817.20,412.61 L817.60,411.03 L818.00,409.64 L818.40,408.45 L818.80,407.47 L819.20,406.70 L819.60,406.14 L820.00,405.81 L820.40,405.70 L820.80,405.82 L821.20,406.18 L821.60,406.78 L822.00,407.61 L822.40,408.68 L822.80,409.96 L823.20,411.46 L823.60,413.17 L824.00,415.07 L824.40,417.15 L824.80,419.41 L825.20,421.82 L825.60,424.37 L826.00,427.05 L826.40,429.84 L826.80,432.72 L827.20,435.67 L827.60,438.68 L828.00,441.73 L828.40,444.80 L828.80,447.87 L829.20,450.92 L829.60,453.93 L830.00,456.88 L830.40,459.76 L830.80,462.55 L831.20,465.23 L831.60,467.78 L832.00,470.19 L832.40,472.45 L832.80,474.53 L833.20,476.43 L833.60,478.14 L834.00,479.64 L834.40,480.92 L834.80,481.99 L835.20,482.82 L835.60,483.42 L836.00,483.78 L836.40,483.90 L836.80,483.80 L837.20,483.49 L837.60,482.97 L838.00,482.26 L838.40,481.35 L838.80,480.24 L839.20,478.95 L839.60,477.48 L840.00,475.83 L840.40,474.03 L840.80,472.07 L841.20,469.97 L841.60,467.73 L842.00,465.38 L842.40,462.92 L842.80,460.37 L843.20,457.74 L843.60,455.04 L844.00,452.29 L844.40,449.51 L844.80,446.70 L845.20,443.89 L845.60,441.09 L846.00,438.32 L846.40,435.58 L846.80,432.90 L847.20,430.29 L847.60,427.75 L848.00,425.32 L848.40,423.00 L848.80,420.80 L849.20,418.73 L849.60,416.81 L850.00,415.04 L850.40,413.44 L850.80,412.01 L851.20,410.76 L851.60,409.71 L852.00,408.84 L852.40,408.18 L852.80,407.72 L853.20,407.46 L853.60,407.41 L854.00,407.57 L854.40,407.94 L854.80,408.52 L855.20,409.30 L855.60,410.29 L856.00,411.48 L856.40,412.85 L856.80,414.41 L857.20,416.13 L857.60,418.03 L858.00,420.07 L858.40,422.25 L858.80,424.57 L859.20,427.00 L859.60,429.53 L860.00,432.14 L860.40,434.83 L860.80,437.58 L861.20,440.37 L861.60,443.18 L862.00,446.01 L862.40,448.83 L862.80,451.63 L863.20,454.38 L863.60,457.09 L864.00,459.73 L864.40,462.28 L864.80,464.74 L865.20,467.08 L865.60,469.30 L866.00,471.38 L866.40,473.31 L866.80,475.08 L867.20,476.68 L867.60,478.10 L868.00,479.33 L868.40,480.37 L868.80,481.21 L869.20,481.84 L869.60,482.26 L870.00,482.47 L870.40,482.47 L870.80,482.27 L871.20,481.85 L871.60,481.23 L872.00,480.41 L872.40,479.39 L872.80,478.18 L873.20,476.79 L873.60,475.22 L874.00,473.48 L874.40,471.58 L874.80,469.54 L875.20,467.37 L875.60,465.07 L876.00,462.66 L876.40,460.15 L876.80,457.56 L877.20,454.91 L877.60,452.20 L878.00,449.46 L878.40,446.69 L878.80,443.92 L879.20,441.16 L879.60,438.42 L880.00,435.72 L880.40,433.08 L880.80,430.51 L881.20,428.03 L881.60,425.65 L882.00,423.38 L882.40,421.23 L882.80,419.23 L883.20,417.37 L883.60,415.68 L884.00,414.15 L884.40,412.80 L884.80,411.64 L885.20,410.67 L885.60,409.90 L886.00,409.33 L886.40,408.96 L886.80,408.81 L887.20,408.86 L887.60,409.10 L888.00,409.54 L888.40,410.17 L888.80,410.99 L889.20,411.99 L889.60,413.17 L890.00,414.52 L890.40,416.04 L890.80,417.71 L891.20,419.54 L891.60,421.49 L892.00,423.58 L892.40,425.78 L892.80,428.09 L893.20,430.49 L893.60,432.97 L894.00,435.51 L894.40,438.10 L894.80,440.73 L895.20,443.39 L895.60,446.05 L896.00,448.71 L896.40,451.34 L896.80,453.95 L897.20,456.50 L897.60,459.00 L898.00,461.42 L898.40,463.75 L898.80,465.98 L899.20,468.09 L899.60,470.09 L900.00,471.94 L900.40,473.66 L900.80,475.21 L901.20,476.61 L901.60,477.83 L902.00,478.88 L902.40,479.75 L902.80,480.42 L903.20,480.91 L903.60,481.20 L904.00,481.30 L904.40,481.20 L904.80,480.89 L905.20,480.39 L905.60,479.68 L906.00,478.79 L906.40,477.70 L906.80,476.43 L907.20,474.99 L907.60,473.37 L908.00,471.60 L908.40,469.69 L908.80,467.63 L909.20,465.45 L909.60,463.16 L910.00,460.77 L910.40,458.29 L910.80,455.74 L911.20,453.14 L911.60,450.49 L912.00,447.81 L912.40,445.13 L912.80,442.45 L913.20,439.78 L913.60,437.15 L914.00,434.57 L914.40,432.06 L914.80,429.62 L915.20,427.28 L915.60,425.04 L916.00,422.92 L916.40,420.94 L916.80,419.09 L917.20,417.40 L917.60,415.87 L918.00,414.51 L918.40,413.33 L918.80,412.34 L919.20,411.54 L919.60,410.93 L920.00,410.53 L920.40,410.33 L920.80,410.32 L921.20,410.51 L921.60,410.89 L922.00,411.45 L922.40,412.20 L922.80,413.12 L923.20,414.22 L923.60,415.49 L924.00,416.92 L924.40,418.50 L924.80,420.22 L925.20,422.08 L925.60,424.07 L926.00,426.17 L926.40,428.37 L926.80,430.66 L927.20,433.03 L927.60,435.47 L928.00,437.95 L928.40,440.48 L928.80,443.03 L929.20,445.59 L929.60,448.15 L930.00,450.69 L930.40,453.19 L930.80,455.66 L931.20,458.06 L931.60,460.39 L932.00,462.64 L932.40,464.80 L932.80,466.84 L933.20,468.76 L933.60,470.56 L934.00,472.21 L934.40,473.72 L934.80,475.06 L935.20,476.25 L935.60,477.26 L936.00,478.10 L936.40,478.75 L936.80,479.22 L937.20,479.51 L937.60,479.60 L938.00,479.50 L938.40,479.21 L938.80,478.73 L939.20,478.06 L939.60,477.20 L940.00,476.16 L940.40,474.94 L940.80,473.56 L941.20,472.02 L941.60,470.33 L942.00,468.49 L942.40,466.53 L942.80,464.44 L943.20,462.25 L943.60,459.97 L944.00,457.60 L944.40,455.16 L944.80,452.67 L945.20,450.13 L945.60,447.58 L946.00,445.01 L946.40,442.44 L946.80,439.90 L947.20,437.38 L947.60,434.91 L948.00,432.51 L948.40,430.18 L948.80,427.94 L949.20,425.80 L949.60,423.77 L950.00,421.87 L950.40,420.11 L950.80,418.49 L951.20,417.03 L951.60,415.73 L952.00,414.60 L952.40,413.65 L952.80,412.88 L953.20,412.31 L953.60,411.92 L954.00,411.72 L954.40,411.72 L954.80,411.91 L955.20,412.29 L955.60,412.85 L956.00,413.59 L956.40,414.51 L956.80,415.60 L957.20,416.86 L957.60,418.27 L958.00,419.84 L958.40,421.55 L958.80,423.39 L959.20,425.36 L959.60,427.43 L960.00,429.60 L960.40,431.87 L960.80,434.20 L961.20,436.60 L961.60,439.04 L962.00,441.52 L962.40,444.01 L962.80,446.51 L963.20,449.01 L963.60,451.48 L964.00,453.91 L964.40,456.29 L964.80,458.61 L965.20,460.85 L965.60,463.00 L966.00,465.05 L966.40,466.98 L966.80,468.79 L967.20,470.47 L967.60,472.00 L968.00,473.37 L968.40,474.59 L968.80,475.64 L969.20,476.51 L969.60,477.21 L970.00,477.72 L970.40,478.05 L970.80,478.19 L971.20,478.15 L971.60,477.92 L972.00,477.51 L972.40,476.91 L972.80,476.14 L973.20,475.20 L973.60,474.09 L974.00,472.82 L974.40,471.39 L974.80,469.82 L975.20,468.11 L975.60,466.28 L976.00,464.32 L976.40,462.27 L976.80,460.11 L977.20,457.88 L977.60,455.57 L978.00,453.21 L978.40,450.81 L978.80,448.38 L979.20,445.93 L979.60,443.48 L980.00,441.04 L980.40,438.63 L980.80,436.26 L981.20,433.94 L981.60,431.69 L982.00,429.51 L982.40,427.43 L982.80,425.45 L983.20,423.59 L983.60,421.85 L984.00,420.24 L984.40,418.78 L984.80,417.47 L985.20,416.31 L985.60,415.33 L986.00,414.51 L986.40,413.88 L986.80,413.42 L987.20,413.14 L987.60,413.05 L988.00,413.14 L988.40,413.41 L988.80,413.85 L989.20,414.47 L989.60,415.26 L990.00,416.22 L990.40,417.33 L990.80,418.61 L991.20,420.03 L991.60,421.59 L992.00,423.28 L992.40,425.09 L992.80,427.01 L993.20,429.04 L993.60,431.15" stroke="#000" stroke-width="1.25"/>
<path d="M816.80,387.10 L817.20,384.87 L817.60,382.81 L818.00,380.93 L818.40,379.25 L818.80,377.78 L819.20,376.52 L819.60,375.47 L820.00,374.66 L820.40,374.07 L820.80,373.72 L821.20,373.60 L821.60,373.72 L822.00,374.08 L822.40,374.67 L822.80,375.49 L823.20,376.55 L823.60,377.82 L824.00,379.31 L824.40,381.01 L824.80,382.90 L825.20,384.97 L825.60,387.22 L826.00,389.64 L826.40,392.19 L826.80,394.88 L827.20,397.69 L827.60,400.59 L828.00,403.58 L828.40,406.64 L828.80,409.75 L829.20,412.89 L829.60,416.04 L830.00,419.19 L830.40,422.31 L830.80,425.39 L831.20,428.42 L831.60,431.37 L832.00,434.23 L832.40,436.98 L832.80,439.60 L833.20,442.09 L833.60,444.42 L834.00,446.59 L834.40,448.57 L834.80,450.37 L835.20,451.96 L835.60,453.34 L836.00,454.51 L836.40,455.45 L836.80,456.16 L837.20,456.63 L837.60,456.87 L838.00,456.87 L838.40,456.65 L838.80,456.21 L839.20,455.55 L839.60,454.68 L840.00,453.60 L840.40,452.32 L840.80,450.84 L841.20,449.17 L841.60,447.32 L842.00,445.30 L842.40,443.13 L842.80,440.80 L843.20,438.35 L843.60,435.77 L844.00,433.09 L844.40,430.31 L844.80,427.45 L845.20,424.54 L845.60,421.57 L846.00,418.58 L846.40,415.57 L846.80,412.57 L847.20,409.58 L847.60,406.63 L848.00,403.73 L848.40,400.89 L848.80,398.13 L849.20,395.48 L849.60,392.93 L850.00,390.50 L850.40,388.22 L850.80,386.08 L851.20,384.10 L851.60,382.30 L852.00,380.68 L852.40,379.24 L852.80,378.01 L853.20,376.98 L853.60,376.16 L854.00,375.56 L854.40,375.17 L854.80,375.01 L855.20,375.06 L855.60,375.35 L856.00,375.86 L856.40,376.59 L856.80,377.53 L857.20,378.70 L857.60,380.06 L858.00,381.63 L858.40,383.38 L858.80,385.32 L859.20,387.42 L859.60,389.68 L860.00,392.08 L860.40,394.62 L860.80,397.27 L861.20,400.02 L861.60,402.85 L862.00,405.76 L862.40,408.72 L862.80,411.71 L863.20,414.72 L863.60,417.74 L864.00,420.74 L864.40,423.71 L864.80,426.63 L865.20,429.48 L865.60,432.26 L866.00,434.93 L866.40,437.50 L866.80,439.93 L867.20,442.23 L867.60,444.37 L868.00,446.35 L868.40,448.15 L868.80,449.76 L869.20,451.18 L869.60,452.40 L870.00,453.40 L870.40,454.18 L870.80,454.75 L871.20,455.09 L871.60,455.20 L872.00,455.09 L872.40,454.78 L872.80,454.25 L873.20,453.52 L873.60,452.58 L874.00,451.45 L874.40,450.12 L874.80,448.61 L875.20,446.92 L875.60,445.07 L876.00,443.06 L876.40,440.90 L876.80,438.61 L877.20,436.20 L877.60,433.67 L878.00,431.05 L878.40,428.35 L878.80,425.59 L879.20,422.77 L879.60,419.91 L880.00,417.03 L880.40,414.15 L880.80,411.27 L881.20,408.43 L881.60,405.62 L882.00,402.87 L882.40,400.18 L882.80,397.59 L883.20,395.09 L883.60,392.70 L884.00,390.45 L884.40,388.32 L884.80,386.35 L885.20,384.54 L885.60,382.90 L886.00,381.43 L886.40,380.15 L886.80,379.07 L887.20,378.18 L887.60,377.50 L888.00,377.02 L888.40,376.76 L888.80,376.71 L889.20,376.87 L889.60,377.25 L890.00,377.84 L890.40,378.64 L890.80,379.64 L891.20,380.85 L891.60,382.25 L892.00,383.83 L892.40,385.59 L892.80,387.51 L893.20,389.60 L893.60,391.82 L894.00,394.18 L894.40,396.65 L894.80,399.23 L895.20,401.90 L895.60,404.65 L896.00,407.46 L896.40,410.31 L896.80,413.18 L897.20,416.07 L897.60,418.96 L898.00,421.82 L898.40,424.65 L898.80,427.43 L899.20,430.14 L899.60,432.77 L900.00,435.30 L900.40,437.72 L900.80,440.01 L901.20,442.16 L901.60,444.17 L902.00,446.01 L902.40,447.69 L902.80,449.18 L903.20,450.48 L903.60,451.59 L904.00,452.49 L904.40,453.19 L904.80,453.67 L905.20,453.94 L905.60,453.99 L906.00,453.83 L906.40,453.46 L906.80,452.88 L907.20,452.09 L907.60,451.10 L908.00,449.92 L908.40,448.54 L908.80,446.98 L909.20,445.25 L909.60,443.35 L910.00,441.30 L910.40,439.11 L910.80,436.79 L911.20,434.36 L911.60,431.82 L912.00,429.19 L912.40,426.48 L912.80,423.72 L913.20,420.92 L913.60,418.08 L914.00,415.24 L914.40,412.40 L914.80,409.58 L915.20,406.79 L915.60,404.06 L916.00,401.39 L916.40,398.80 L916.80,396.31 L917.20,393.93 L917.60,391.67 L918.00,389.55 L918.40,387.58 L918.80,385.76 L919.20,384.12 L919.60,382.65 L920.00,381.37 L920.40,380.28 L920.80,379.39 L921.20,378.70 L921.60,378.23 L922.00,377.96 L922.40,377.91 L922.80,378.06 L923.20,378.42 L923.60,378.97 L924.00,379.73 L924.40,380.68 L924.80,381.82 L925.20,383.14 L925.60,384.63 L926.00,386.30 L926.40,388.12 L926.80,390.09 L927.20,392.19 L927.60,394.43 L928.00,396.77 L928.40,399.22 L928.80,401.76 L929.20,404.37 L929.60,407.04 L930.00,409.75 L930.40,412.49 L930.80,415.25 L931.20,418.01 L931.60,420.75 L932.00,423.46 L932.40,426.13 L932.80,428.74 L933.20,431.28 L933.60,433.73 L934.00,436.07 L934.40,438.31 L934.80,440.41 L935.20,442.38 L935.60,444.20 L936.00,445.87 L936.40,447.36 L936.80,448.68 L937.20,449.82 L937.60,450.77 L938.00,451.53 L938.40,452.08 L938.80,452.44 L939.20,452.59 L939.60,452.54 L940.00,452.29 L940.40,451.83 L940.80,451.17 L941.20,450.32 L941.60,449.28 L942.00,448.05 L942.40,446.64 L942.80,445.06 L943.20,443.32 L943.60,441.42 L944.00,439.39 L944.40,437.22 L944.80,434.94 L945.20,432.55 L945.60,430.07 L946.00,427.51 L946.40,424.89 L946.80,422.21 L947.20,419.51 L947.60,416.78 L948.00,414.05 L948.40,411.34 L948.80,408.64 L949.20,406.00 L949.60,403.40 L950.00,400.88 L950.40,398.44 L950.80,396.11 L951.20,393.88 L951.60,391.78 L952.00,389.81 L952.40,387.99 L952.80,386.33 L953.20,384.84 L953.60,383.52 L954.00,382.38 L954.40,381.43 L954.80,380.67 L955.20,380.12 L955.60,379.76 L956.00,379.61 L956.40,379.66 L956.80,379.90 L957.20,380.35 L957.60,380.98 L958.00,381.81 L958.40,382.83 L958.80,384.02 L959.20,385.39 L959.60,386.92 L960.00,388.62 L960.40,390.46 L960.80,392.43 L961.20,394.54 L961.60,396.76 L962.00,399.09 L962.40,401.50 L962.80,403.99 L963.20,406.55 L963.60,409.15 L964.00,411.79 L964.40,414.45 L964.80,417.12 L965.20,419.77 L965.60,422.40 L966.00,425.00 L966.40,427.54 L966.80,430.01 L967.20,432.40 L967.60,434.70 L968.00,436.90 L968.40,438.97 L968.80,440.92 L969.20,442.72 L969.60,444.37 L970.00,445.87 L970.40,447.19 L970.80,448.34 L971.20,449.31 L971.60,450.09 L972.00,450.68 L972.40,451.08 L972.80,451.28 L973.20,451.27 L973.60,451.08 L974.00,450.68 L974.40,450.08 L974.80,449.29 L975.20,448.32 L975.60,447.16 L976.00,445.82 L976.40,444.31 L976.80,442.65 L977.20,440.83 L977.60,438.87 L978.00,436.78 L978.40,434.58 L978.80,432.26 L979.20,429.86 L979.60,427.38 L980.00,424.83 L980.40,422.23 L980.80,419.60 L981.20,416.95 L981.60,414.29 L982.00,411.64 L982.40,409.01 L982.80,406.43 L983.20,403.89 L983.60,401.43 L984.00,399.05 L984.40,396.76 L984.80,394.58 L985.20,392.53 L985.60,390.60 L986.00,388.82 L986.40,387.20 L986.80,385.73 L987.20,384.44 L987.60,383.32 L988.00,382.39 L988.40,381.65 L988.80,381.11 L989.20,380.76 L989.60,380.61 L990.00,380.65 L990.40,380.90 L990.80,381.33 L991.20,381.96 L991.60,382.77 L992.00,383.76 L992.40,384.93 L992.80,386.27 L993.20,387.77 L993.60,389.43" stroke="#f00" stroke-width="1.25"/>
</g>
<rect x="816.8" y="374.1" width="176.8" height="110.1" fill="none" stroke="#3c3c3c" stroke-width="1.1"/>
<text x="834.48" y="499" font-size="11.3" text-anchor="middle" fill="#262626" >16</text>
<text x="869.84" y="499" font-size="11.3" text-anchor="middle" fill="#262626" >18</text>
<text x="905.2" y="499" font-size="11.3" text-anchor="middle" fill="#262626" >20</text>
<text x="940.56" y="499" font-size="11.3" text-anchor="middle" fill="#262626" >22</text>
<text x="975.92" y="499" font-size="11.3" text-anchor="middle" fill="#262626" >24</text>
<text x="813" y="389.1" font-size="11.3" text-anchor="end" fill="#262626" >10</text>
<text x="813" y="419.25" font-size="11.3" text-anchor="end" fill="#262626" >5</text>
<text x="813" y="449.4" font-size="11.3" text-anchor="end" fill="#262626" >0</text>
<text x="813" y="479.55" font-size="11.3" text-anchor="end" fill="#262626" >-5</text>
<text x="817.4" y="370.6" font-size="11.3" fill="#262626"><tspan font-size="13" fill="#555">×</tspan><tspan x="826.6">10</tspan><tspan x="839.6" dy="-5.6" font-size="9.3">-3</tspan></text>
<path d="M988.4,253.4 L988.4,267.5 L991.7,264.9 L993.4,269.7 L995.8,269.7 L994.2,264.3 L998.8,263.9 Z" fill="#fff" stroke="#9a9a9a" stroke-width="0.8" stroke-linejoin="round"/>
<path d="M988.4,253.4 L998.8,263.9" fill="none" stroke="#111" stroke-width="0.9" stroke-dasharray="1.3 0.9"/>
</g>
<g>
<line x1="1254.2" y1="188.6" x2="1254.2" y2="536.2" stroke="#e9e9e9" stroke-width="1"/>
<line x1="1341.8" y1="188.6" x2="1341.8" y2="536.2" stroke="#e9e9e9" stroke-width="1"/>
<line x1="1428.6" y1="188.6" x2="1428.6" y2="536.2" stroke="#e9e9e9" stroke-width="1"/>
<line x1="1515.9" y1="188.6" x2="1515.9" y2="536.2" stroke="#e9e9e9" stroke-width="1"/>
<line x1="1167.1" y1="247" x2="1603.5" y2="247" stroke="#e9e9e9" stroke-width="1"/>
<line x1="1167.1" y1="304.7" x2="1603.5" y2="304.7" stroke="#e9e9e9" stroke-width="1"/>
<line x1="1167.1" y1="362.7" x2="1603.5" y2="362.7" stroke="#e9e9e9" stroke-width="1"/>
<line x1="1167.1" y1="420.45" x2="1603.5" y2="420.45" stroke="#e9e9e9" stroke-width="1"/>
<line x1="1167.1" y1="477.9" x2="1603.5" y2="477.9" stroke="#e9e9e9" stroke-width="1"/>
<path d="M1254.2,536.2v-4.5M1254.2,188.6v4.5M1341.8,536.2v-4.5M1341.8,188.6v4.5M1428.6,536.2v-4.5M1428.6,188.6v4.5M1515.9,536.2v-4.5M1515.9,188.6v4.5M1167.1,247h4.5M1603.5,247h-4.5M1167.1,304.7h4.5M1603.5,304.7h-4.5M1167.1,362.7h4.5M1603.5,362.7h-4.5M1167.1,420.45h4.5M1603.5,420.45h-4.5M1167.1,477.9h4.5M1603.5,477.9h-4.5" stroke="#7a7a7a" stroke-width="1" fill="none"/>
<clipPath id="cb"><rect x="1167.1" y="188.6" width="436.9" height="347.6"/></clipPath>
<g clip-path="url(#cb)" fill="none" stroke-linejoin="round">
<path d="M1167.30,247.00 L1167.80,247.00 L1168.30,247.00 L1168.80,247.00 L1169.30,247.00 L1169.80,247.00 L1170.30,247.00 L1170.80,247.00 L1171.30,247.00 L1171.80,247.00 L1172.30,247.00 L1172.80,247.00 L1173.30,247.00 L1173.80,247.00 L1174.30,247.00 L1174.80,247.00 L1175.30,247.00 L1175.80,247.00 L1176.30,247.00 L1176.80,247.00 L1177.30,247.00 L1177.80,247.00 L1178.30,247.00 L1178.80,247.00 L1179.30,247.00 L1179.80,247.00 L1180.30,247.00 L1180.80,247.00 L1181.30,247.01 L1181.80,247.01 L1182.30,247.02 L1182.80,247.03 L1183.30,247.05 L1183.80,247.07 L1184.30,247.10 L1184.80,247.13 L1185.30,247.17 L1185.80,247.22 L1186.30,247.27 L1186.80,247.34 L1187.30,247.40 L1187.80,247.48 L1188.30,247.56 L1188.80,247.64 L1189.30,247.74 L1189.80,247.85 L1190.30,247.97 L1190.80,248.11 L1191.30,248.26 L1191.80,248.43 L1192.30,248.61 L1192.80,248.82 L1193.30,249.04 L1193.80,249.29 L1194.30,249.55 L1194.80,249.83 L1195.30,250.14 L1195.80,250.46 L1196.30,250.82 L1196.80,251.20 L1197.30,251.60 L1197.80,252.02 L1198.30,252.45 L1198.80,252.90 L1199.30,253.36 L1199.80,253.82 L1200.30,254.29 L1200.80,254.76 L1201.30,255.23 L1201.80,255.70 L1202.30,256.18 L1202.80,256.66 L1203.30,257.14 L1203.80,257.63 L1204.30,258.12 L1204.80,258.62 L1205.30,259.12 L1205.80,259.63 L1206.30,260.13 L1206.80,260.65 L1207.30,261.16 L1207.80,261.69 L1208.30,262.21 L1208.80,262.74 L1209.30,263.27 L1209.80,263.80 L1210.30,264.34 L1210.80,264.89 L1211.30,265.44 L1211.80,265.99 L1212.30,266.57 L1212.80,267.16 L1213.30,267.77 L1213.80,268.40 L1214.30,269.07 L1214.80,269.76 L1215.30,270.49 L1215.80,271.24 L1216.30,272.03 L1216.80,272.84 L1217.30,273.69 L1217.80,274.57 L1218.30,275.47 L1218.80,276.41 L1219.30,277.38 L1219.80,278.38 L1220.30,279.41 L1220.80,280.48 L1221.30,281.59 L1221.80,282.73 L1222.30,283.91 L1222.80,285.13 L1223.30,286.39 L1223.80,287.68 L1224.30,289.02 L1224.80,290.40 L1225.30,291.82 L1225.80,293.29 L1226.30,294.80 L1226.80,296.35 L1227.30,297.94 L1227.80,299.57 L1228.30,301.24 L1228.80,302.96 L1229.30,304.71 L1229.80,306.51 L1230.30,308.35 L1230.80,310.23 L1231.30,312.15 L1231.80,314.11 L1232.30,316.10 L1232.80,318.11 L1233.30,320.13 L1233.80,322.16 L1234.30,324.19 L1234.80,326.22 L1235.30,328.24 L1235.80,330.26 L1236.30,332.26 L1236.80,334.26 L1237.30,336.25 L1237.80,338.24 L1238.30,340.24 L1238.80,342.23 L1239.30,344.22 L1239.80,346.22 L1240.30,348.21 L1240.80,350.19 L1241.30,352.17 L1241.80,354.13 L1242.30,356.08 L1242.80,358.01 L1243.30,359.91 L1243.80,361.80 L1244.30,363.66 L1244.80,365.50 L1245.30,367.32 L1245.80,369.12 L1246.30,370.90 L1246.80,372.65 L1247.30,374.39 L1247.80,376.10 L1248.30,377.80 L1248.80,379.47 L1249.30,381.14 L1249.80,382.79 L1250.30,384.44 L1250.80,386.08 L1251.30,387.73 L1251.80,389.40 L1252.30,391.08 L1252.80,392.79 L1253.30,394.55 L1253.80,396.36 L1254.30,398.24 L1254.80,400.17 L1255.30,402.16 L1255.80,404.18 L1256.30,406.19 L1256.80,408.19 L1257.30,410.13 L1257.80,412.01 L1258.30,413.82 L1258.80,415.57 L1259.30,417.27 L1259.80,418.96 L1260.30,420.63 L1260.80,422.31 L1261.30,424.00 L1261.80,425.71 L1262.30,427.42 L1262.80,429.14 L1263.30,430.87 L1263.80,432.58 L1264.30,434.29 L1264.80,435.98 L1265.30,437.65 L1265.80,439.31 L1266.30,440.97 L1266.80,442.61 L1267.30,444.25 L1267.80,445.89 L1268.30,447.53 L1268.80,449.17 L1269.30,450.80 L1269.80,452.44 L1270.30,454.07 L1270.80,455.70 L1271.30,457.32 L1271.80,458.94 L1272.30,460.55 L1272.80,462.15 L1273.30,463.73 L1273.80,465.30 L1274.30,466.85 L1274.80,468.39 L1275.30,469.90 L1275.80,471.38 L1276.30,472.83 L1276.80,474.24 L1277.30,475.60 L1277.80,476.91 L1278.30,478.16 L1278.80,479.34 L1279.30,480.45 L1279.80,481.49 L1280.30,482.45 L1280.80,483.32 L1281.30,484.11 L1281.80,484.81 L1282.30,485.42 L1282.80,485.95 L1283.30,486.38 L1283.80,486.74 L1284.30,487.01 L1284.80,487.21 L1285.30,487.32 L1285.80,487.36 L1286.30,487.32 L1286.80,487.21 L1287.30,487.03 L1287.80,486.80 L1288.30,486.50 L1288.80,486.15 L1289.30,485.75 L1289.80,485.30 L1290.30,484.80 L1290.80,484.26 L1291.30,483.69 L1291.80,483.09 L1292.30,482.46 L1292.80,481.82 L1293.30,481.15 L1293.80,480.48 L1294.30,479.79 L1294.80,479.09 L1295.30,478.39 L1295.80,477.68 L1296.30,476.97 L1296.80,476.25 L1297.30,475.54 L1297.80,474.83 L1298.30,474.11 L1298.80,473.40 L1299.30,472.69 L1299.80,471.98 L1300.30,471.27 L1300.80,470.57 L1301.30,469.87 L1301.80,469.17 L1302.30,468.48 L1302.80,467.78 L1303.30,467.08 L1303.80,466.38 L1304.30,465.66 L1304.80,464.94 L1305.30,464.19 L1305.80,463.42 L1306.30,462.63 L1306.80,461.82 L1307.30,460.98 L1307.80,460.11 L1308.30,459.21 L1308.80,458.29 L1309.30,457.33 L1309.80,456.35 L1310.30,455.33 L1310.80,454.27 L1311.30,453.17 L1311.80,452.04 L1312.30,450.85 L1312.80,449.62 L1313.30,448.33 L1313.80,446.99 L1314.30,445.60 L1314.80,444.16 L1315.30,442.66 L1315.80,441.12 L1316.30,439.54 L1316.80,437.92 L1317.30,436.26 L1317.80,434.57 L1318.30,432.85 L1318.80,431.10 L1319.30,429.33 L1319.80,427.55 L1320.30,425.75 L1320.80,423.93 L1321.30,422.10 L1321.80,420.25 L1322.30,418.37 L1322.80,416.45 L1323.30,414.49 L1323.80,412.47 L1324.30,410.39 L1324.80,408.27 L1325.30,406.11 L1325.80,403.94 L1326.30,401.78 L1326.80,399.65 L1327.30,397.57 L1327.80,395.54 L1328.30,393.56 L1328.80,391.62 L1329.30,389.70 L1329.80,387.81 L1330.30,385.92 L1330.80,384.03 L1331.30,382.15 L1331.80,380.28 L1332.30,378.42 L1332.80,376.59 L1333.30,374.79 L1333.80,373.02 L1334.30,371.30 L1334.80,369.62 L1335.30,367.97 L1335.80,366.36 L1336.30,364.77 L1336.80,363.20 L1337.30,361.65 L1337.80,360.10 L1338.30,358.57 L1338.80,357.05 L1339.30,355.53 L1339.80,354.03 L1340.30,352.53 L1340.80,351.05 L1341.30,349.58 L1341.80,348.13 L1342.30,346.69 L1342.80,345.26 L1343.30,343.84 L1343.80,342.43 L1344.30,341.02 L1344.80,339.63 L1345.30,338.24 L1345.80,336.85 L1346.30,335.47 L1346.80,334.09 L1347.30,332.71 L1347.80,331.33 L1348.30,329.95 L1348.80,328.57 L1349.30,327.17 L1349.80,325.76 L1350.30,324.34 L1350.80,322.88 L1351.30,321.38 L1351.80,319.83 L1352.30,318.23 L1352.80,316.57 L1353.30,314.86 L1353.80,313.12 L1354.30,311.36 L1354.80,309.60 L1355.30,307.85 L1355.80,306.14 L1356.30,304.45 L1356.80,302.79 L1357.30,301.17 L1357.80,299.57 L1358.30,298.00 L1358.80,296.44 L1359.30,294.91 L1359.80,293.40 L1360.30,291.91 L1360.80,290.45 L1361.30,289.03 L1361.80,287.65 L1362.30,286.31 L1362.80,285.02 L1363.30,283.78 L1363.80,282.59 L1364.30,281.43 L1364.80,280.33 L1365.30,279.26 L1365.80,278.22 L1366.30,277.23 L1366.80,276.26 L1367.30,275.33 L1367.80,274.43 L1368.30,273.55 L1368.80,272.71 L1369.30,271.89 L1369.80,271.10 L1370.30,270.33 L1370.80,269.59 L1371.30,268.88 L1371.80,268.19 L1372.30,267.53 L1372.80,266.89 L1373.30,266.27 L1373.80,265.67 L1374.30,265.08 L1374.80,264.52 L1375.30,263.98 L1375.80,263.45 L1376.30,262.94 L1376.80,262.44 L1377.30,261.96 L1377.80,261.50 L1378.30,261.05 L1378.80,260.61 L1379.30,260.19 L1379.80,259.78 L1380.30,259.38 L1380.80,258.98 L1381.30,258.60 L1381.80,258.21 L1382.30,257.83 L1382.80,257.45 L1383.30,257.07 L1383.80,256.69 L1384.30,256.31 L1384.80,255.94 L1385.30,255.56 L1385.80,255.18 L1386.30,254.81 L1386.80,254.45 L1387.30,254.08 L1387.80,253.73 L1388.30,253.37 L1388.80,253.02 L1389.30,252.68 L1389.80,252.34 L1390.30,252.01 L1390.80,251.68 L1391.30,251.36 L1391.80,251.04 L1392.30,250.73 L1392.80,250.43 L1393.30,250.14 L1393.80,249.86 L1394.30,249.59 L1394.80,249.32 L1395.30,249.07 L1395.80,248.82 L1396.30,248.58 L1396.80,248.35 L1397.30,248.13 L1397.80,247.92 L1398.30,247.72 L1398.80,247.53 L1399.30,247.36 L1399.80,247.19 L1400.30,247.04 L1400.80,246.90 L1401.30,246.76 L1401.80,246.64 L1402.30,246.52 L1402.80,246.41 L1403.30,246.31 L1403.80,246.22 L1404.30,246.14 L1404.80,246.06 L1405.30,245.99 L1405.80,245.93 L1406.30,245.88 L1406.80,245.82 L1407.30,245.77 L1407.80,245.73 L1408.30,245.69 L1408.80,245.65 L1409.30,245.62 L1409.80,245.59 L1410.30,245.57 L1410.80,245.55 L1411.30,245.53 L1411.80,245.52 L1412.30,245.51 L1412.80,245.51 L1413.30,245.50 L1413.80,245.50 L1414.30,245.50 L1414.80,245.50 L1415.30,245.50 L1415.80,245.50 L1416.30,245.50 L1416.80,245.50 L1417.30,245.50 L1417.80,245.50 L1418.30,245.50 L1418.80,245.50 L1419.30,245.50 L1419.80,245.50 L1420.30,245.50 L1420.80,245.50 L1421.30,245.50 L1421.80,245.50 L1422.30,245.50 L1422.80,245.50 L1423.30,245.50 L1423.80,245.50 L1424.30,245.50 L1424.80,245.50 L1425.30,245.50 L1425.80,245.50 L1426.30,245.50 L1426.80,245.50 L1427.30,245.50 L1427.80,245.50 L1428.30,245.50 L1428.80,245.50 L1429.30,245.50 L1429.80,245.50 L1430.30,245.50 L1430.80,245.50 L1431.30,245.50 L1431.80,245.50 L1432.30,245.50 L1432.80,245.50 L1433.30,245.50 L1433.80,245.50 L1434.30,245.50 L1434.80,245.50 L1435.30,245.50 L1435.80,245.50 L1436.30,245.50 L1436.80,245.50 L1437.30,245.50 L1437.80,245.50 L1438.30,245.50 L1438.80,245.50 L1439.30,245.50 L1439.80,245.50 L1440.30,245.50 L1440.80,245.50 L1441.30,245.50 L1441.80,245.50 L1442.30,245.50 L1442.80,245.50 L1443.30,245.50 L1443.80,245.50 L1444.30,245.50 L1444.80,245.50 L1445.30,245.50 L1445.80,245.50 L1446.30,245.50 L1446.80,245.50 L1447.30,245.50 L1447.80,245.50 L1448.30,245.50 L1448.80,245.50 L1449.30,245.50 L1449.80,245.50 L1450.30,245.50 L1450.80,245.50 L1451.30,245.50 L1451.80,245.50 L1452.30,245.50 L1452.80,245.50 L1453.30,245.50 L1453.80,245.50 L1454.30,245.50 L1454.80,245.50 L1455.30,245.50 L1455.80,245.50 L1456.30,245.50 L1456.80,245.50 L1457.30,245.50 L1457.80,245.50 L1458.30,245.50 L1458.80,245.50 L1459.30,245.50 L1459.80,245.50 L1460.30,245.50 L1460.80,245.50 L1461.30,245.50 L1461.80,245.50 L1462.30,245.50 L1462.80,245.50 L1463.30,245.50 L1463.80,245.50 L1464.30,245.50 L1464.80,245.50 L1465.30,245.50 L1465.80,245.50 L1466.30,245.50 L1466.80,245.50 L1467.30,245.50 L1467.80,245.50 L1468.30,245.50 L1468.80,245.50 L1469.30,245.50 L1469.80,245.50 L1470.30,245.50 L1470.80,245.50 L1471.30,245.50 L1471.80,245.50 L1472.30,245.50 L1472.80,245.50 L1473.30,245.50 L1473.80,245.50 L1474.30,245.50 L1474.80,245.50 L1475.30,245.50 L1475.80,245.50 L1476.30,245.50 L1476.80,245.50 L1477.30,245.50 L1477.80,245.50 L1478.30,245.50 L1478.80,245.50 L1479.30,245.50 L1479.80,245.50 L1480.30,245.50 L1480.80,245.50 L1481.30,245.50 L1481.80,245.50 L1482.30,245.50 L1482.80,245.50 L1483.30,245.50 L1483.80,245.50 L1484.30,245.50 L1484.80,245.50 L1485.30,245.50 L1485.80,245.50 L1486.30,245.50 L1486.80,245.50 L1487.30,245.50 L1487.80,245.50 L1488.30,245.50 L1488.80,245.50 L1489.30,245.50 L1489.80,245.50 L1490.30,245.50 L1490.80,245.50 L1491.30,245.50 L1491.80,245.50 L1492.30,245.50 L1492.80,245.50 L1493.30,245.50 L1493.80,245.50 L1494.30,245.50 L1494.80,245.50 L1495.30,245.50 L1495.80,245.50 L1496.30,245.50 L1496.80,245.50 L1497.30,245.50 L1497.80,245.50 L1498.30,245.50 L1498.80,245.50 L1499.30,245.50 L1499.80,245.50 L1500.30,245.50 L1500.80,245.50 L1501.30,245.50 L1501.80,245.50 L1502.30,245.50 L1502.80,245.50 L1503.30,245.50 L1503.80,245.50 L1504.30,245.50 L1504.80,245.50 L1505.30,245.50 L1505.80,245.50 L1506.30,245.50 L1506.80,245.50 L1507.30,245.50 L1507.80,245.50 L1508.30,245.50 L1508.80,245.50 L1509.30,245.50 L1509.80,245.50 L1510.30,245.50 L1510.80,245.50 L1511.30,245.50 L1511.80,245.50 L1512.30,245.50 L1512.80,245.50 L1513.30,245.50 L1513.80,245.50 L1514.30,245.50 L1514.80,245.50 L1515.30,245.50 L1515.80,245.50 L1516.30,245.50 L1516.80,245.50 L1517.30,245.50 L1517.80,245.50 L1518.30,245.50 L1518.80,245.50 L1519.30,245.50 L1519.80,245.50 L1520.30,245.50 L1520.80,245.50 L1521.30,245.50 L1521.80,245.50 L1522.30,245.50 L1522.80,245.50 L1523.30,245.50 L1523.80,245.50 L1524.30,245.50 L1524.80,245.50 L1525.30,245.50 L1525.80,245.50 L1526.30,245.50 L1526.80,245.50 L1527.30,245.50 L1527.80,245.50 L1528.30,245.50 L1528.80,245.50 L1529.30,245.50 L1529.80,245.50 L1530.30,245.50 L1530.80,245.50 L1531.30,245.50 L1531.80,245.50 L1532.30,245.50 L1532.80,245.50 L1533.30,245.50 L1533.80,245.50 L1534.30,245.50 L1534.80,245.50 L1535.30,245.50 L1535.80,245.50 L1536.30,245.50 L1536.80,245.50 L1537.30,245.50 L1537.80,245.50 L1538.30,245.50 L1538.80,245.50 L1539.30,245.50 L1539.80,245.50 L1540.30,245.50 L1540.80,245.50 L1541.30,245.50 L1541.80,245.50 L1542.30,245.50 L1542.80,245.50 L1543.30,245.50 L1543.80,245.50 L1544.30,245.50 L1544.80,245.50 L1545.30,245.50 L1545.80,245.50 L1546.30,245.50 L1546.80,245.50 L1547.30,245.50 L1547.80,245.50 L1548.30,245.50 L1548.80,245.50 L1549.30,245.50 L1549.80,245.50 L1550.30,245.50 L1550.80,245.50 L1551.30,245.50 L1551.80,245.50 L1552.30,245.50 L1552.80,245.50 L1553.30,245.50 L1553.80,245.50 L1554.30,245.50 L1554.80,245.50 L1555.30,245.50 L1555.80,245.50 L1556.30,245.50 L1556.80,245.50 L1557.30,245.50 L1557.80,245.50 L1558.30,245.50 L1558.80,245.50 L1559.30,245.50 L1559.80,245.50 L1560.30,245.50 L1560.80,245.50 L1561.30,245.50 L1561.80,245.50 L1562.30,245.50 L1562.80,245.50 L1563.30,245.50 L1563.80,245.50 L1564.30,245.50 L1564.80,245.50 L1565.30,245.50 L1565.80,245.50 L1566.30,245.50 L1566.80,245.50 L1567.30,245.50 L1567.80,245.50 L1568.30,245.50 L1568.80,245.50 L1569.30,245.50 L1569.80,245.50 L1570.30,245.50 L1570.80,245.50 L1571.30,245.50 L1571.80,245.50 L1572.30,245.50 L1572.80,245.50 L1573.30,245.50 L1573.80,245.50 L1574.30,245.50 L1574.80,245.50 L1575.30,245.50 L1575.80,245.50 L1576.30,245.50 L1576.80,245.50 L1577.30,245.50 L1577.80,245.50 L1578.30,245.50 L1578.80,245.50 L1579.30,245.50 L1579.80,245.50 L1580.30,245.50 L1580.80,245.50 L1581.30,245.50 L1581.80,245.50 L1582.30,245.50 L1582.80,245.50 L1583.30,245.50 L1583.80,245.50 L1584.30,245.50 L1584.80,245.50 L1585.30,245.50 L1585.80,245.50 L1586.30,245.50 L1586.80,245.50 L1587.30,245.50 L1587.80,245.50 L1588.30,245.50 L1588.80,245.50 L1589.30,245.50 L1589.80,245.50 L1590.30,245.50 L1590.80,245.50 L1591.30,245.50 L1591.80,245.50 L1592.30,245.50 L1592.80,245.50 L1593.30,245.50 L1593.80,245.50 L1594.30,245.50 L1594.80,245.50 L1595.30,245.50 L1595.80,245.50 L1596.30,245.50 L1596.80,245.50 L1597.30,245.50 L1597.80,245.50 L1598.30,245.50 L1598.80,245.50 L1599.30,245.50 L1599.80,245.50 L1600.30,245.50 L1600.80,245.50 L1601.30,245.50 L1601.80,245.50 L1602.30,245.50 L1602.80,245.50 L1603.30,245.50 L1603.60,245.50" stroke="#000" stroke-width="2.3"/>
<path d="M1167.30,247.00 L1167.80,247.00 L1168.30,247.00 L1168.80,247.00 L1169.30,247.00 L1169.80,247.00 L1170.30,247.00 L1170.80,247.00 L1171.30,247.00 L1171.80,247.00 L1172.30,247.00 L1172.80,247.00 L1173.30,247.00 L1173.80,247.00 L1174.30,247.00 L1174.80,247.00 L1175.30,247.00 L1175.80,247.00 L1176.30,247.00 L1176.80,247.00 L1177.30,247.00 L1177.80,247.00 L1178.30,247.00 L1178.80,247.00 L1179.30,247.00 L1179.80,247.00 L1180.30,247.00 L1180.80,247.00 L1181.30,247.00 L1181.80,247.01 L1182.30,247.01 L1182.80,247.02 L1183.30,247.03 L1183.80,247.05 L1184.30,247.07 L1184.80,247.10 L1185.30,247.13 L1185.80,247.16 L1186.30,247.20 L1186.80,247.25 L1187.30,247.30 L1187.80,247.36 L1188.30,247.42 L1188.80,247.49 L1189.30,247.56 L1189.80,247.65 L1190.30,247.75 L1190.80,247.87 L1191.30,248.00 L1191.80,248.14 L1192.30,248.30 L1192.80,248.48 L1193.30,248.67 L1193.80,248.88 L1194.30,249.10 L1194.80,249.33 L1195.30,249.58 L1195.80,249.84 L1196.30,250.12 L1196.80,250.41 L1197.30,250.72 L1197.80,251.05 L1198.30,251.38 L1198.80,251.73 L1199.30,252.09 L1199.80,252.45 L1200.30,252.82 L1200.80,253.19 L1201.30,253.57 L1201.80,253.96 L1202.30,254.35 L1202.80,254.75 L1203.30,255.15 L1203.80,255.56 L1204.30,255.98 L1204.80,256.41 L1205.30,256.84 L1205.80,257.28 L1206.30,257.73 L1206.80,258.19 L1207.30,258.65 L1207.80,259.13 L1208.30,259.61 L1208.80,260.11 L1209.30,260.61 L1209.80,261.12 L1210.30,261.65 L1210.80,262.18 L1211.30,262.73 L1211.80,263.29 L1212.30,263.86 L1212.80,264.44 L1213.30,265.03 L1213.80,265.64 L1214.30,266.27 L1214.80,266.90 L1215.30,267.56 L1215.80,268.23 L1216.30,268.91 L1216.80,269.62 L1217.30,270.34 L1217.80,271.08 L1218.30,271.85 L1218.80,272.63 L1219.30,273.43 L1219.80,274.25 L1220.30,275.09 L1220.80,275.95 L1221.30,276.83 L1221.80,277.72 L1222.30,278.64 L1222.80,279.58 L1223.30,280.55 L1223.80,281.55 L1224.30,282.59 L1224.80,283.67 L1225.30,284.80 L1225.80,285.98 L1226.30,287.21 L1226.80,288.51 L1227.30,289.87 L1227.80,291.30 L1228.30,292.81 L1228.80,294.38 L1229.30,296.03 L1229.80,297.74 L1230.30,299.50 L1230.80,301.31 L1231.30,303.14 L1231.80,304.98 L1232.30,306.83 L1232.80,308.67 L1233.30,310.50 L1233.80,312.29 L1234.30,314.06 L1234.80,315.80 L1235.30,317.50 L1235.80,319.17 L1236.30,320.82 L1236.80,322.45 L1237.30,324.07 L1237.80,325.69 L1238.30,327.31 L1238.80,328.92 L1239.30,330.54 L1239.80,332.17 L1240.30,333.80 L1240.80,335.42 L1241.30,337.06 L1241.80,338.69 L1242.30,340.32 L1242.80,341.96 L1243.30,343.60 L1243.80,345.23 L1244.30,346.87 L1244.80,348.51 L1245.30,350.14 L1245.80,351.77 L1246.30,353.39 L1246.80,355.00 L1247.30,356.60 L1247.80,358.18 L1248.30,359.75 L1248.80,361.31 L1249.30,362.85 L1249.80,364.38 L1250.30,365.90 L1250.80,367.41 L1251.30,368.91 L1251.80,370.41 L1252.30,371.91 L1252.80,373.40 L1253.30,374.89 L1253.80,376.38 L1254.30,377.87 L1254.80,379.36 L1255.30,380.86 L1255.80,382.36 L1256.30,383.87 L1256.80,385.39 L1257.30,386.93 L1257.80,388.48 L1258.30,390.06 L1258.80,391.66 L1259.30,393.29 L1259.80,394.96 L1260.30,396.68 L1260.80,398.44 L1261.30,400.24 L1261.80,402.09 L1262.30,403.96 L1262.80,405.83 L1263.30,407.69 L1263.80,409.51 L1264.30,411.28 L1264.80,412.99 L1265.30,414.65 L1265.80,416.26 L1266.30,417.83 L1266.80,419.38 L1267.30,420.91 L1267.80,422.43 L1268.30,423.93 L1268.80,425.43 L1269.30,426.91 L1269.80,428.38 L1270.30,429.84 L1270.80,431.27 L1271.30,432.68 L1271.80,434.07 L1272.30,435.44 L1272.80,436.78 L1273.30,438.09 L1273.80,439.37 L1274.30,440.62 L1274.80,441.84 L1275.30,443.03 L1275.80,444.20 L1276.30,445.34 L1276.80,446.46 L1277.30,447.56 L1277.80,448.65 L1278.30,449.72 L1278.80,450.77 L1279.30,451.81 L1279.80,452.81 L1280.30,453.78 L1280.80,454.70 L1281.30,455.58 L1281.80,456.41 L1282.30,457.18 L1282.80,457.89 L1283.30,458.54 L1283.80,459.12 L1284.30,459.62 L1284.80,460.04 L1285.30,460.37 L1285.80,460.59 L1286.30,460.72 L1286.80,460.74 L1287.30,460.67 L1287.80,460.51 L1288.30,460.29 L1288.80,460.00 L1289.30,459.67 L1289.80,459.30 L1290.30,458.91 L1290.80,458.50 L1291.30,458.08 L1291.80,457.65 L1292.30,457.22 L1292.80,456.78 L1293.30,456.33 L1293.80,455.89 L1294.30,455.44 L1294.80,454.98 L1295.30,454.52 L1295.80,454.05 L1296.30,453.58 L1296.80,453.10 L1297.30,452.61 L1297.80,452.12 L1298.30,451.62 L1298.80,451.12 L1299.30,450.62 L1299.80,450.12 L1300.30,449.61 L1300.80,449.11 L1301.30,448.61 L1301.80,448.10 L1302.30,447.59 L1302.80,447.08 L1303.30,446.56 L1303.80,446.04 L1304.30,445.50 L1304.80,444.95 L1305.30,444.38 L1305.80,443.80 L1306.30,443.20 L1306.80,442.58 L1307.30,441.94 L1307.80,441.27 L1308.30,440.57 L1308.80,439.85 L1309.30,439.09 L1309.80,438.30 L1310.30,437.47 L1310.80,436.59 L1311.30,435.66 L1311.80,434.68 L1312.30,433.64 L1312.80,432.53 L1313.30,431.37 L1313.80,430.14 L1314.30,428.85 L1314.80,427.51 L1315.30,426.12 L1315.80,424.69 L1316.30,423.21 L1316.80,421.69 L1317.30,420.14 L1317.80,418.55 L1318.30,416.93 L1318.80,415.25 L1319.30,413.52 L1319.80,411.74 L1320.30,409.88 L1320.80,407.97 L1321.30,406.00 L1321.80,403.98 L1322.30,401.94 L1322.80,399.89 L1323.30,397.83 L1323.80,395.79 L1324.30,393.77 L1324.80,391.76 L1325.30,389.77 L1325.80,387.79 L1326.30,385.83 L1326.80,383.89 L1327.30,381.96 L1327.80,380.05 L1328.30,378.14 L1328.80,376.24 L1329.30,374.34 L1329.80,372.45 L1330.30,370.55 L1330.80,368.66 L1331.30,366.78 L1331.80,364.91 L1332.30,363.07 L1332.80,361.26 L1333.30,359.49 L1333.80,357.78 L1334.30,356.12 L1334.80,354.51 L1335.30,352.95 L1335.80,351.45 L1336.30,349.98 L1336.80,348.56 L1337.30,347.17 L1337.80,345.81 L1338.30,344.47 L1338.80,343.17 L1339.30,341.88 L1339.80,340.62 L1340.30,339.36 L1340.80,338.13 L1341.30,336.90 L1341.80,335.69 L1342.30,334.48 L1342.80,333.27 L1343.30,332.07 L1343.80,330.86 L1344.30,329.66 L1344.80,328.44 L1345.30,327.22 L1345.80,325.98 L1346.30,324.73 L1346.80,323.47 L1347.30,322.18 L1347.80,320.88 L1348.30,319.56 L1348.80,318.22 L1349.30,316.86 L1349.80,315.47 L1350.30,314.06 L1350.80,312.63 L1351.30,311.19 L1351.80,309.74 L1352.30,308.28 L1352.80,306.81 L1353.30,305.34 L1353.80,303.88 L1354.30,302.41 L1354.80,300.95 L1355.30,299.50 L1355.80,298.06 L1356.30,296.63 L1356.80,295.22 L1357.30,293.81 L1357.80,292.43 L1358.30,291.06 L1358.80,289.71 L1359.30,288.39 L1359.80,287.10 L1360.30,285.83 L1360.80,284.61 L1361.30,283.41 L1361.80,282.26 L1362.30,281.15 L1362.80,280.07 L1363.30,279.02 L1363.80,278.01 L1364.30,277.02 L1364.80,276.06 L1365.30,275.12 L1365.80,274.20 L1366.30,273.30 L1366.80,272.43 L1367.30,271.57 L1367.80,270.73 L1368.30,269.91 L1368.80,269.12 L1369.30,268.35 L1369.80,267.61 L1370.30,266.90 L1370.80,266.22 L1371.30,265.57 L1371.80,264.95 L1372.30,264.34 L1372.80,263.76 L1373.30,263.20 L1373.80,262.66 L1374.30,262.14 L1374.80,261.63 L1375.30,261.13 L1375.80,260.65 L1376.30,260.17 L1376.80,259.71 L1377.30,259.27 L1377.80,258.83 L1378.30,258.40 L1378.80,257.98 L1379.30,257.57 L1379.80,257.16 L1380.30,256.76 L1380.80,256.36 L1381.30,255.97 L1381.80,255.58 L1382.30,255.19 L1382.80,254.81 L1383.30,254.43 L1383.80,254.05 L1384.30,253.67 L1384.80,253.30 L1385.30,252.94 L1385.80,252.57 L1386.30,252.21 L1386.80,251.85 L1387.30,251.49 L1387.80,251.13 L1388.30,250.78 L1388.80,250.43 L1389.30,250.09 L1389.80,249.75 L1390.30,249.42 L1390.80,249.10 L1391.30,248.80 L1391.80,248.50 L1392.30,248.22 L1392.80,247.95 L1393.30,247.68 L1393.80,247.44 L1394.30,247.20 L1394.80,246.97 L1395.30,246.75 L1395.80,246.55 L1396.30,246.36 L1396.80,246.18 L1397.30,246.01 L1397.80,245.86 L1398.30,245.72 L1398.80,245.59 L1399.30,245.47 L1399.80,245.35 L1400.30,245.25 L1400.80,245.15 L1401.30,245.06 L1401.80,244.98 L1402.30,244.91 L1402.80,244.84 L1403.30,244.78 L1403.80,244.72 L1404.30,244.67 L1404.80,244.62 L1405.30,244.58 L1405.80,244.54 L1406.30,244.50 L1406.80,244.46 L1407.30,244.43 L1407.80,244.40 L1408.30,244.38 L1408.80,244.36 L1409.30,244.34 L1409.80,244.33 L1410.30,244.32 L1410.80,244.31 L1411.30,244.31 L1411.80,244.30 L1412.30,244.30 L1412.80,244.30 L1413.30,244.30 L1413.80,244.30 L1414.30,244.30 L1414.80,244.30 L1415.30,244.30 L1415.80,244.30 L1416.30,244.30 L1416.80,244.30 L1417.30,244.30 L1417.80,244.30 L1418.30,244.30 L1418.80,244.30 L1419.30,244.30 L1419.80,244.30 L1420.30,244.30 L1420.80,244.30 L1421.30,244.30 L1421.80,244.30 L1422.30,244.30 L1422.80,244.30 L1423.30,244.30 L1423.80,244.30 L1424.30,244.30 L1424.80,244.30 L1425.30,244.30 L1425.80,244.30 L1426.30,244.30 L1426.80,244.30 L1427.30,244.30 L1427.80,244.30 L1428.30,244.30 L1428.80,244.30 L1429.30,244.30 L1429.80,244.30 L1430.30,244.30 L1430.80,244.30 L1431.30,244.30 L1431.80,244.30 L1432.30,244.30 L1432.80,244.30 L1433.30,244.30 L1433.80,244.30 L1434.30,244.30 L1434.80,244.30 L1435.30,244.30 L1435.80,244.30 L1436.30,244.30 L1436.80,244.30 L1437.30,244.30 L1437.80,244.30 L1438.30,244.30 L1438.80,244.30 L1439.30,244.30 L1439.80,244.30 L1440.30,244.30 L1440.80,244.30 L1441.30,244.30 L1441.80,244.30 L1442.30,244.30 L1442.80,244.30 L1443.30,244.30 L1443.80,244.30 L1444.30,244.30 L1444.80,244.30 L1445.30,244.30 L1445.80,244.30 L1446.30,244.30 L1446.80,244.30 L1447.30,244.30 L1447.80,244.30 L1448.30,244.30 L1448.80,244.30 L1449.30,244.30 L1449.80,244.30 L1450.30,244.30 L1450.80,244.30 L1451.30,244.30 L1451.80,244.30 L1452.30,244.30 L1452.80,244.30 L1453.30,244.30 L1453.80,244.30 L1454.30,244.30 L1454.80,244.30 L1455.30,244.30 L1455.80,244.30 L1456.30,244.30 L1456.80,244.30 L1457.30,244.30 L1457.80,244.30 L1458.30,244.30 L1458.80,244.30 L1459.30,244.30 L1459.80,244.30 L1460.30,244.30 L1460.80,244.30 L1461.30,244.30 L1461.80,244.30 L1462.30,244.30 L1462.80,244.30 L1463.30,244.30 L1463.80,244.30 L1464.30,244.30 L1464.80,244.30 L1465.30,244.30 L1465.80,244.30 L1466.30,244.30 L1466.80,244.30 L1467.30,244.30 L1467.80,244.30 L1468.30,244.30 L1468.80,244.30 L1469.30,244.30 L1469.80,244.30 L1470.30,244.30 L1470.80,244.30 L1471.30,244.30 L1471.80,244.30 L1472.30,244.30 L1472.80,244.30 L1473.30,244.30 L1473.80,244.30 L1474.30,244.30 L1474.80,244.30 L1475.30,244.30 L1475.80,244.30 L1476.30,244.30 L1476.80,244.30 L1477.30,244.30 L1477.80,244.30 L1478.30,244.30 L1478.80,244.30 L1479.30,244.30 L1479.80,244.30 L1480.30,244.30 L1480.80,244.30 L1481.30,244.30 L1481.80,244.30 L1482.30,244.30 L1482.80,244.30 L1483.30,244.30 L1483.80,244.30 L1484.30,244.30 L1484.80,244.30 L1485.30,244.30 L1485.80,244.30 L1486.30,244.30 L1486.80,244.30 L1487.30,244.30 L1487.80,244.30 L1488.30,244.30 L1488.80,244.30 L1489.30,244.30 L1489.80,244.30 L1490.30,244.30 L1490.80,244.30 L1491.30,244.30 L1491.80,244.30 L1492.30,244.30 L1492.80,244.30 L1493.30,244.30 L1493.80,244.30 L1494.30,244.30 L1494.80,244.30 L1495.30,244.30 L1495.80,244.30 L1496.30,244.30 L1496.80,244.30 L1497.30,244.30 L1497.80,244.30 L1498.30,244.30 L1498.80,244.30 L1499.30,244.30 L1499.80,244.30 L1500.30,244.30 L1500.80,244.30 L1501.30,244.30 L1501.80,244.30 L1502.30,244.30 L1502.80,244.30 L1503.30,244.30 L1503.80,244.30 L1504.30,244.30 L1504.80,244.30 L1505.30,244.30 L1505.80,244.30 L1506.30,244.30 L1506.80,244.30 L1507.30,244.30 L1507.80,244.30 L1508.30,244.30 L1508.80,244.30 L1509.30,244.30 L1509.80,244.30 L1510.30,244.30 L1510.80,244.30 L1511.30,244.30 L1511.80,244.30 L1512.30,244.30 L1512.80,244.30 L1513.30,244.30 L1513.80,244.30 L1514.30,244.30 L1514.80,244.30 L1515.30,244.30 L1515.80,244.30 L1516.30,244.30 L1516.80,244.30 L1517.30,244.30 L1517.80,244.30 L1518.30,244.30 L1518.80,244.30 L1519.30,244.30 L1519.80,244.30 L1520.30,244.30 L1520.80,244.30 L1521.30,244.30 L1521.80,244.30 L1522.30,244.30 L1522.80,244.30 L1523.30,244.30 L1523.80,244.30 L1524.30,244.30 L1524.80,244.30 L1525.30,244.30 L1525.80,244.30 L1526.30,244.30 L1526.80,244.30 L1527.30,244.30 L1527.80,244.30 L1528.30,244.30 L1528.80,244.30 L1529.30,244.30 L1529.80,244.30 L1530.30,244.30 L1530.80,244.30 L1531.30,244.30 L1531.80,244.30 L1532.30,244.30 L1532.80,244.30 L1533.30,244.30 L1533.80,244.30 L1534.30,244.30 L1534.80,244.30 L1535.30,244.30 L1535.80,244.30 L1536.30,244.30 L1536.80,244.30 L1537.30,244.30 L1537.80,244.30 L1538.30,244.30 L1538.80,244.30 L1539.30,244.30 L1539.80,244.30 L1540.30,244.30 L1540.80,244.30 L1541.30,244.30 L1541.80,244.30 L1542.30,244.30 L1542.80,244.30 L1543.30,244.30 L1543.80,244.30 L1544.30,244.30 L1544.80,244.30 L1545.30,244.30 L1545.80,244.30 L1546.30,244.30 L1546.80,244.30 L1547.30,244.30 L1547.80,244.30 L1548.30,244.30 L1548.80,244.30 L1549.30,244.30 L1549.80,244.30 L1550.30,244.30 L1550.80,244.30 L1551.30,244.30 L1551.80,244.30 L1552.30,244.30 L1552.80,244.30 L1553.30,244.30 L1553.80,244.30 L1554.30,244.30 L1554.80,244.30 L1555.30,244.30 L1555.80,244.30 L1556.30,244.30 L1556.80,244.30 L1557.30,244.30 L1557.80,244.30 L1558.30,244.30 L1558.80,244.30 L1559.30,244.30 L1559.80,244.30 L1560.30,244.30 L1560.80,244.30 L1561.30,244.30 L1561.80,244.30 L1562.30,244.30 L1562.80,244.30 L1563.30,244.30 L1563.80,244.30 L1564.30,244.30 L1564.80,244.30 L1565.30,244.30 L1565.80,244.30 L1566.30,244.30 L1566.80,244.30 L1567.30,244.30 L1567.80,244.30 L1568.30,244.30 L1568.80,244.30 L1569.30,244.30 L1569.80,244.30 L1570.30,244.30 L1570.80,244.30 L1571.30,244.30 L1571.80,244.30 L1572.30,244.30 L1572.80,244.30 L1573.30,244.30 L1573.80,244.30 L1574.30,244.30 L1574.80,244.30 L1575.30,244.30 L1575.80,244.30 L1576.30,244.30 L1576.80,244.30 L1577.30,244.30 L1577.80,244.30 L1578.30,244.30 L1578.80,244.30 L1579.30,244.30 L1579.80,244.30 L1580.30,244.30 L1580.80,244.30 L1581.30,244.30 L1581.80,244.30 L1582.30,244.30 L1582.80,244.30 L1583.30,244.30 L1583.80,244.30 L1584.30,244.30 L1584.80,244.30 L1585.30,244.30 L1585.80,244.30 L1586.30,244.30 L1586.80,244.30 L1587.30,244.30 L1587.80,244.30 L1588.30,244.30 L1588.80,244.30 L1589.30,244.30 L1589.80,244.30 L1590.30,244.30 L1590.80,244.30 L1591.30,244.30 L1591.80,244.30 L1592.30,244.30 L1592.80,244.30 L1593.30,244.30 L1593.80,244.30 L1594.30,244.30 L1594.80,244.30 L1595.30,244.30 L1595.80,244.30 L1596.30,244.30 L1596.80,244.30 L1597.30,244.30 L1597.80,244.30 L1598.30,244.30 L1598.80,244.30 L1599.30,244.30 L1599.80,244.30 L1600.30,244.30 L1600.80,244.30 L1601.30,244.30 L1601.80,244.30 L1602.30,244.30 L1602.80,244.30 L1603.30,244.30 L1603.60,244.30" stroke="#f00" stroke-width="2.3"/>
</g>
<circle cx="1286.3" cy="461.4" r="4.3" fill="#f00"/>
<rect x="1167.1" y="188.6" width="436.4" height="347.6" fill="none" stroke="#7a7a7a" stroke-width="1"/>
<text x="1159.7" y="195.3" font-size="19.3" text-anchor="end" fill="#262626" >0.005</text>
<text x="1159.7" y="253.7" font-size="19.3" text-anchor="end" fill="#262626" >0</text>
<text x="1159.7" y="311.4" font-size="19.3" text-anchor="end" fill="#262626" >-0.005</text>
<text x="1159.7" y="369.4" font-size="19.3" text-anchor="end" fill="#262626" >-0.01</text>
<text x="1159.7" y="427.15" font-size="19.3" text-anchor="end" fill="#262626" >-0.015</text>
<text x="1159.7" y="484.6" font-size="19.3" text-anchor="end" fill="#262626" >-0.02</text>
<text x="1159.7" y="542.9" font-size="19.3" text-anchor="end" fill="#262626" >-0.025</text>
<text x="1167.1" y="561.8" font-size="19" text-anchor="middle" fill="#262626" >0</text>
<text x="1254.2" y="561.8" font-size="19" text-anchor="middle" fill="#262626" >5</text>
<text x="1341.8" y="561.8" font-size="19" text-anchor="middle" fill="#262626" >10</text>
<text x="1428.6" y="561.8" font-size="19" text-anchor="middle" fill="#262626" >15</text>
<text x="1515.9" y="561.8" font-size="19" text-anchor="middle" fill="#262626" >20</text>
<text x="1603.5" y="561.8" font-size="19" text-anchor="middle" fill="#262626" >25</text>
<text x="1385.3" y="589.7" font-size="21.5" text-anchor="middle" fill="#262626" >Time [s]</text>
<text transform="translate(1094.9,362.0) rotate(-90) scale(1,0.97)" font-size="21.6" text-anchor="middle" fill="#262626">Axial stretch [m]</text>
<rect x="1476.5" y="266.4" width="107.3" height="53.8" fill="#fff" stroke="#808080" stroke-width="1"/>
<line x1="1481.5" y1="280.4" x2="1522.9" y2="280.4" stroke="#000" stroke-width="1.3"/>
<line x1="1481.5" y1="305.3" x2="1522.9" y2="305.3" stroke="#f00" stroke-width="2"/>
<text x="1526.1" y="287.9" font-size="19.5" text-anchor="start" fill="#000" >CRF</text>
<text x="1526.1" y="313" font-size="19.5" text-anchor="start" fill="#000" >Modal</text>
</g>
</svg>
<div class="abs cap" id="capa" style="left:601px;top:613.3px;"><span style="margin-right:5.6px">(a)</span> Transverse <span style="letter-spacing:-0.15px">deflection.</span></div>
<div class="abs cap" id="capb" style="left:1231px;top:613.3px;"><span style="margin-right:5.6px">(b)</span> Axial <span style="letter-spacing:0.5px">stretch.</span></div>
<div id="bar">
<svg style="position:absolute;left:0;top:0" width="60" height="35" viewBox="1 961 60 35">
<g fill="none" stroke="#fff" stroke-width="1.6" stroke-linecap="round">
<rect x="8.5" y="968.9" width="10.2" height="13.6" rx="5.1" fill="#f4f4f4" stroke="none"/>
<path d="M6.9,979.5 a6.6,5.5 0 0 0 13.2,0" stroke="#f4f4f4" stroke-width="1.4"/>
<path d="M8.6,980.6 a4.9,4.2 0 0 0 9.8,0 Z" fill="#e4e4e4" stroke="none"/>
<path d="M13.5,985 V988" stroke="#f4f4f4" stroke-width="1.6"/>
</g>
<path d="M4.0,986.6 L22.2,968.4" stroke="#646464" stroke-width="1.6" stroke-linecap="butt"/>
<path d="M4.8,987.7 L23.0,969.5" stroke="#f05038" stroke-width="1.8" stroke-linecap="round"/>
<path d="M34.2,970.2 H48 a4.6,4.6 0 0 1 4.6,4.6 V983.8 H34.2 Z" fill="#fff"/>
<rect x="39.8" y="985" width="7.6" height="1.8" fill="#fff"/>
<path d="M39.8,978.7 L43.45,975.2 L47.1,978.7" fill="none" stroke="#646464" stroke-width="1.6"/>
</svg>
<span class="t" style="left:59.6px">彭超</span>
<span class="t" style="left:102.3px;letter-spacing:0.55px">Chao Peng</span>
<span class="t" style="left:197px">的屏幕共享</span>
<span class="t b" style="left:291px;letter-spacing:-0.15px">@金风科技</span>
</div>
<div id="bt"></div><div id="bl"></div>
</body>
</html>
